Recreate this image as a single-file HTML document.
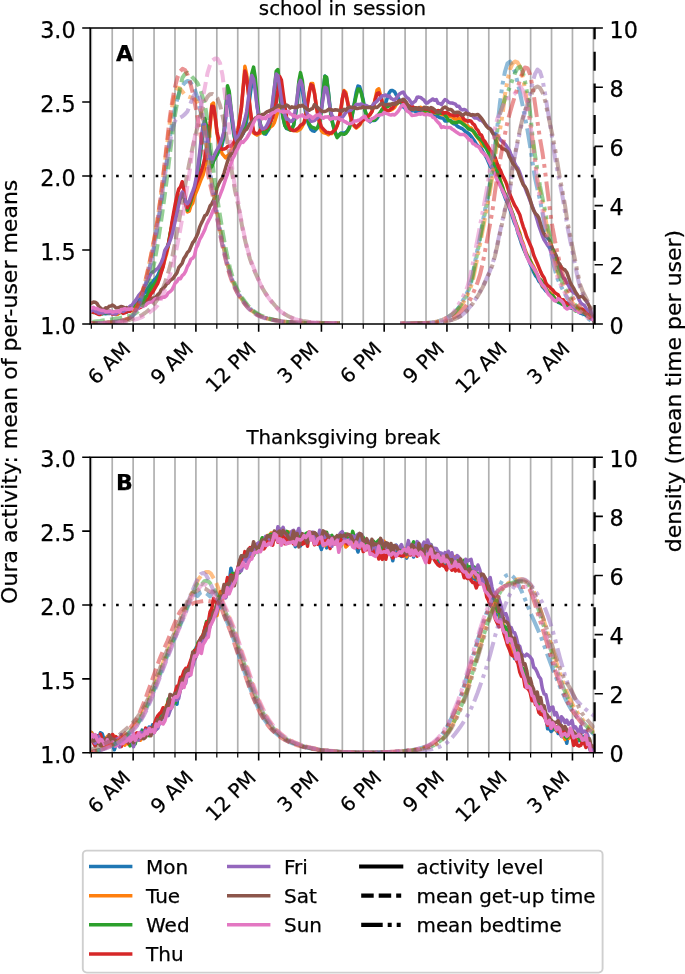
<!DOCTYPE html><html><head><meta charset="utf-8"><title>activity</title><style>html,body{margin:0;padding:0;background:#fff}svg{display:block}text{font-family:"DejaVu Sans","Liberation Sans",sans-serif;fill:#000;stroke:#000;stroke-width:0.25px}</style></head><body>
<svg width="685" height="974" viewBox="0 0 685 974">
<rect width="685" height="974" fill="#fff"/>
<defs><clipPath id="c0"><rect x="90.2" y="28.0" width="504.40000000000003" height="296.0"/></clipPath><clipPath id="c1"><rect x="90.2" y="457.3" width="504.40000000000003" height="295.49999999999994"/></clipPath></defs>
<path d="M91.30 28.0V324.0M112.22 28.0V324.0M133.14 28.0V324.0M154.06 28.0V324.0M174.98 28.0V324.0M195.90 28.0V324.0M216.82 28.0V324.0M237.74 28.0V324.0M258.66 28.0V324.0M279.58 28.0V324.0M300.50 28.0V324.0M321.42 28.0V324.0M342.34 28.0V324.0M363.26 28.0V324.0M384.18 28.0V324.0M405.10 28.0V324.0M426.02 28.0V324.0M446.94 28.0V324.0M467.86 28.0V324.0M488.78 28.0V324.0M509.70 28.0V324.0M530.62 28.0V324.0M551.54 28.0V324.0M572.46 28.0V324.0M593.38 28.0V324.0" stroke="#b0b0b0" stroke-width="1.7" fill="none"/>
<g clip-path="url(#c0)">
<path d="M90.0 310.4L91.7 310.7L93.5 311.5L95.2 311.7L97.0 313.3L98.7 313.9L100.4 313.5L102.2 313.4L103.9 313.6L105.7 313.8L107.4 313.2L109.1 313.6L110.9 313.0L112.6 312.6L114.4 312.4L116.1 312.9L117.8 313.0L119.6 311.6L121.3 311.0L123.1 311.1L124.8 311.8L126.5 312.3L128.3 311.0L130.0 310.4L131.8 308.0L133.5 306.6L135.2 304.3L137.0 303.2L138.7 301.4L140.5 298.3L142.2 296.3L143.9 293.3L145.7 292.2L147.4 288.8L149.2 286.7L150.9 283.7L152.6 282.3L154.4 279.5L156.1 278.0L157.9 275.2L159.6 271.1L161.3 266.5L163.1 260.4L164.8 254.6L166.6 249.2L168.3 243.9L170.0 237.9L171.8 229.1L173.5 221.2L175.3 213.1L177.0 204.8L178.7 199.2L180.5 195.7L182.2 193.6L184.0 195.2L185.7 205.0L187.4 210.1L189.2 206.5L190.9 200.8L192.7 196.5L194.4 191.6L196.1 184.9L197.9 174.6L199.6 160.5L201.4 145.2L203.1 130.3L204.8 123.2L206.6 129.3L208.3 142.3L210.1 155.2L211.8 164.8L213.5 161.4L215.3 156.5L217.0 155.1L218.8 151.3L220.5 149.7L222.2 144.4L224.0 136.7L225.7 117.8L227.5 96.0L229.2 98.7L230.9 112.7L232.7 127.0L234.4 137.5L236.2 143.7L237.9 141.9L239.6 139.6L241.4 136.2L243.1 133.8L244.9 128.8L246.6 121.3L248.3 109.7L250.1 95.6L251.8 83.1L253.6 76.4L255.3 85.9L257.0 104.6L258.8 117.3L260.5 126.8L262.3 131.0L264.0 133.5L265.7 134.1L267.5 131.2L269.2 128.6L271.0 121.0L272.7 108.3L274.4 94.1L276.2 80.9L277.9 80.6L279.7 93.0L281.4 108.0L283.1 117.6L284.9 125.3L286.6 128.6L288.4 129.0L290.1 129.1L291.8 128.6L293.6 124.9L295.3 116.4L297.1 103.2L298.8 90.3L300.5 83.3L302.3 90.0L304.0 102.0L305.8 114.0L307.5 120.8L309.2 125.6L311.0 129.4L312.7 130.8L314.5 131.2L316.2 129.3L317.9 127.4L319.7 120.5L321.4 108.8L323.2 90.5L324.9 76.1L326.6 78.3L328.4 92.0L330.1 108.0L331.9 119.0L333.6 127.2L335.3 132.2L337.1 136.1L338.8 135.8L340.6 133.2L342.3 132.9L344.0 133.2L345.8 132.4L347.5 130.9L349.3 127.3L351.0 122.1L352.7 111.6L354.5 102.2L356.2 92.5L358.0 86.0L359.7 86.7L361.4 92.5L363.2 99.9L364.9 110.3L366.7 116.1L368.4 120.2L370.1 121.8L371.9 120.2L373.6 120.6L375.4 120.2L377.1 118.3L378.8 115.6L380.6 112.6L382.3 110.1L384.1 107.8L385.8 102.6L387.5 97.3L389.3 92.6L391.0 90.4L392.8 90.6L394.5 91.7L396.2 94.8L398.0 97.5L399.7 100.6L401.5 103.6L403.2 106.8L404.9 108.1L406.7 110.3L408.4 110.2L410.2 111.4L411.9 110.9L413.6 110.5L415.4 111.6L417.1 111.9L418.9 111.2L420.6 111.1L422.3 111.1L424.1 112.3L425.8 113.1L427.6 113.7L429.3 113.3L431.0 113.8L432.8 114.2L434.5 114.8L436.3 116.5L438.0 116.1L439.7 117.6L441.5 117.9L443.2 118.3L445.0 121.0L446.7 121.0L448.4 120.4L450.2 120.5L451.9 121.6L453.7 123.8L455.4 124.3L457.1 126.0L458.9 127.2L460.6 128.0L462.4 128.7L464.1 130.2L465.8 132.0L467.6 132.8L469.3 134.1L471.1 136.3L472.8 138.7L474.5 141.1L476.3 144.2L478.0 146.0L479.8 147.0L481.5 148.9L483.2 152.2L485.0 154.9L486.7 158.1L488.5 162.3L490.2 166.1L491.9 168.2L493.7 171.3L495.4 174.5L497.2 177.9L498.9 180.4L500.6 184.6L502.4 190.8L504.1 194.9L505.9 199.8L507.6 203.0L509.3 207.6L511.1 212.6L512.8 217.9L514.6 223.2L516.3 226.5L518.0 233.1L519.8 238.1L521.5 243.5L523.3 248.2L525.0 251.9L526.7 256.2L528.5 259.5L530.2 264.2L532.0 267.8L533.7 272.3L535.4 275.5L537.2 277.6L538.9 281.3L540.7 283.0L542.4 286.8L544.1 288.5L545.9 291.1L547.6 292.1L549.4 293.3L551.1 295.7L552.8 297.7L554.6 299.7L556.3 300.8L558.1 302.2L559.8 302.7L561.5 303.9L563.3 304.1L565.0 304.8L566.8 305.3L568.5 305.1L570.2 307.8L572.0 308.2L573.7 308.4L575.5 309.7L577.2 310.5L578.9 311.9L580.7 313.3L582.4 313.3L584.2 314.4L585.9 315.2L587.6 316.6L589.4 316.1L591.1 317.3L592.9 319.8L594.4 322.1" stroke="#1f77b4" stroke-width="3.5" fill="none" stroke-linejoin="round" stroke-linecap="square"/>
<path d="M90.0 310.6L91.7 310.2L93.5 311.2L95.2 311.6L97.0 311.9L98.7 312.4L100.4 312.3L102.2 311.2L103.9 311.4L105.7 311.8L107.4 312.6L109.1 312.5L110.9 312.4L112.6 312.3L114.4 314.1L116.1 314.5L117.8 314.2L119.6 312.4L121.3 311.8L123.1 310.4L124.8 310.6L126.5 311.6L128.3 310.2L130.0 310.2L131.8 309.4L133.5 309.3L135.2 308.1L137.0 307.6L138.7 306.4L140.5 305.4L142.2 304.0L143.9 302.8L145.7 301.0L147.4 298.4L149.2 294.8L150.9 292.5L152.6 288.1L154.4 287.2L156.1 283.7L157.9 280.0L159.6 276.2L161.3 271.4L163.1 266.1L164.8 259.7L166.6 253.9L168.3 246.2L170.0 235.3L171.8 225.8L173.5 216.8L175.3 208.1L177.0 200.5L178.7 195.0L180.5 196.4L182.2 193.3L184.0 194.0L185.7 201.5L187.4 212.0L189.2 211.1L190.9 205.8L192.7 203.3L194.4 196.3L196.1 192.4L197.9 188.0L199.6 183.3L201.4 178.7L203.1 174.8L204.8 167.1L206.6 158.6L208.3 146.2L210.1 127.7L211.8 104.3L213.5 103.0L215.3 118.3L217.0 133.1L218.8 142.5L220.5 148.9L222.2 153.8L224.0 155.9L225.7 158.0L227.5 155.7L229.2 154.8L230.9 151.5L232.7 147.6L234.4 142.6L236.2 137.2L237.9 130.6L239.6 119.6L241.4 107.8L243.1 87.7L244.9 66.3L246.6 73.8L248.3 91.1L250.1 110.2L251.8 124.4L253.6 133.0L255.3 134.0L257.0 135.1L258.8 133.9L260.5 133.1L262.3 131.3L264.0 130.2L265.7 129.2L267.5 129.1L269.2 128.0L271.0 126.7L272.7 125.3L274.4 122.5L276.2 116.9L277.9 111.4L279.7 105.2L281.4 105.2L283.1 112.5L284.9 119.3L286.6 124.9L288.4 128.2L290.1 129.5L291.8 130.3L293.6 130.4L295.3 130.7L297.1 131.0L298.8 130.1L300.5 129.0L302.3 126.2L304.0 123.1L305.8 114.3L307.5 102.3L309.2 92.1L311.0 83.6L312.7 83.4L314.5 92.9L316.2 105.3L317.9 115.3L319.7 124.7L321.4 130.7L323.2 132.5L324.9 133.1L326.6 133.6L328.4 134.7L330.1 132.9L331.9 133.6L333.6 131.2L335.3 129.8L337.1 125.8L338.8 120.6L340.6 111.9L342.3 99.9L344.0 90.5L345.8 92.2L347.5 101.0L349.3 111.3L351.0 118.9L352.7 124.3L354.5 126.4L356.2 128.0L358.0 126.7L359.7 125.1L361.4 122.1L363.2 120.0L364.9 118.6L366.7 117.2L368.4 116.3L370.1 114.1L371.9 111.4L373.6 106.1L375.4 97.5L377.1 89.9L378.8 88.8L380.6 95.4L382.3 103.0L384.1 108.8L385.8 111.0L387.5 110.8L389.3 110.4L391.0 110.1L392.8 109.0L394.5 107.5L396.2 104.7L398.0 103.0L399.7 100.9L401.5 101.4L403.2 103.1L404.9 104.9L406.7 105.7L408.4 106.3L410.2 107.3L411.9 108.7L413.6 109.5L415.4 107.9L417.1 108.0L418.9 108.1L420.6 107.2L422.3 109.1L424.1 110.4L425.8 112.0L427.6 110.6L429.3 111.6L431.0 111.1L432.8 111.5L434.5 112.7L436.3 112.9L438.0 112.5L439.7 113.2L441.5 114.6L443.2 114.4L445.0 115.7L446.7 116.2L448.4 116.0L450.2 116.3L451.9 116.8L453.7 118.4L455.4 119.0L457.1 119.2L458.9 118.3L460.6 119.3L462.4 121.0L464.1 123.3L465.8 125.5L467.6 125.8L469.3 127.6L471.1 128.0L472.8 130.7L474.5 133.5L476.3 136.0L478.0 138.2L479.8 140.3L481.5 143.7L483.2 146.1L485.0 145.9L486.7 147.4L488.5 149.1L490.2 152.6L491.9 155.6L493.7 158.2L495.4 163.4L497.2 169.5L498.9 174.8L500.6 181.2L502.4 186.3L504.1 191.9L505.9 195.4L507.6 199.3L509.3 203.7L511.1 209.1L512.8 214.2L514.6 219.6L516.3 224.2L518.0 228.4L519.8 233.0L521.5 239.4L523.3 243.6L525.0 249.7L526.7 253.8L528.5 258.3L530.2 260.2L532.0 263.8L533.7 266.7L535.4 270.0L537.2 274.8L538.9 278.0L540.7 282.0L542.4 285.4L544.1 287.3L545.9 288.7L547.6 290.7L549.4 292.4L551.1 293.7L552.8 295.7L554.6 297.8L556.3 299.9L558.1 300.7L559.8 301.3L561.5 301.3L563.3 303.8L565.0 304.0L566.8 305.1L568.5 306.0L570.2 307.2L572.0 306.6L573.7 308.0L575.5 308.5L577.2 309.0L578.9 310.2L580.7 309.7L582.4 312.3L584.2 312.8L585.9 313.7L587.6 313.9L589.4 316.4L591.1 316.4L592.9 319.1L594.4 319.3" stroke="#ff7f0e" stroke-width="3.5" fill="none" stroke-linejoin="round" stroke-linecap="square"/>
<path d="M90.0 311.9L91.7 311.4L93.5 312.5L95.2 311.8L97.0 313.1L98.7 313.2L100.4 312.6L102.2 313.9L103.9 312.4L105.7 312.8L107.4 312.6L109.1 311.1L110.9 311.9L112.6 311.6L114.4 312.9L116.1 311.8L117.8 311.5L119.6 312.8L121.3 312.4L123.1 312.5L124.8 311.1L126.5 310.4L128.3 309.1L130.0 308.0L131.8 307.9L133.5 306.7L135.2 305.8L137.0 305.0L138.7 304.8L140.5 303.6L142.2 301.9L143.9 299.3L145.7 296.8L147.4 295.2L149.2 291.2L150.9 288.5L152.6 286.0L154.4 283.9L156.1 281.5L157.9 278.5L159.6 274.9L161.3 268.6L163.1 261.9L164.8 255.5L166.6 250.5L168.3 245.4L170.0 234.1L171.8 226.5L173.5 216.8L175.3 209.0L177.0 200.4L178.7 197.3L180.5 198.4L182.2 195.8L184.0 194.6L185.7 201.8L187.4 210.2L189.2 206.1L190.9 201.3L192.7 195.0L194.4 188.9L196.1 182.4L197.9 172.5L199.6 158.1L201.4 142.1L203.1 128.2L204.8 118.4L206.6 126.2L208.3 140.7L210.1 155.1L211.8 166.9L213.5 160.7L215.3 158.2L217.0 154.0L218.8 150.5L220.5 146.9L222.2 140.9L224.0 132.4L225.7 109.6L227.5 85.7L229.2 91.0L230.9 106.8L232.7 123.1L234.4 136.4L236.2 141.7L237.9 140.9L239.6 137.2L241.4 134.0L243.1 130.2L244.9 124.5L246.6 116.5L248.3 104.0L250.1 87.3L251.8 73.4L253.6 67.1L255.3 77.7L257.0 97.6L258.8 113.8L260.5 124.5L262.3 130.6L264.0 133.5L265.7 132.4L267.5 129.8L269.2 127.0L271.0 118.8L272.7 103.7L274.4 88.8L276.2 71.3L277.9 69.5L279.7 85.0L281.4 104.4L283.1 117.8L284.9 125.8L286.6 128.1L288.4 128.8L290.1 130.2L291.8 128.7L293.6 125.5L295.3 114.9L297.1 100.0L298.8 81.6L300.5 72.6L302.3 80.3L304.0 95.9L305.8 110.5L307.5 118.1L309.2 123.9L311.0 126.6L312.7 127.4L314.5 128.1L316.2 128.8L317.9 127.2L319.7 122.3L321.4 109.6L323.2 92.3L324.9 76.2L326.6 77.3L328.4 92.4L330.1 109.8L331.9 121.0L333.6 126.9L335.3 133.3L337.1 137.6L338.8 135.5L340.6 133.4L342.3 134.0L344.0 134.3L345.8 133.5L347.5 131.0L349.3 128.3L351.0 121.6L352.7 112.8L354.5 103.5L356.2 95.7L358.0 89.0L359.7 89.2L361.4 93.3L363.2 101.9L364.9 110.0L366.7 115.2L368.4 120.2L370.1 120.2L371.9 119.8L373.6 120.3L375.4 119.2L377.1 116.6L378.8 114.1L380.6 111.8L382.3 108.9L384.1 108.4L385.8 107.1L387.5 106.8L389.3 105.8L391.0 104.3L392.8 104.8L394.5 103.7L396.2 103.9L398.0 102.7L399.7 102.0L401.5 101.6L403.2 103.0L404.9 104.1L406.7 105.5L408.4 107.1L410.2 108.7L411.9 109.1L413.6 107.9L415.4 108.5L417.1 109.1L418.9 109.1L420.6 109.4L422.3 109.8L424.1 110.3L425.8 110.7L427.6 110.8L429.3 111.3L431.0 110.7L432.8 110.7L434.5 112.0L436.3 112.6L438.0 113.7L439.7 112.5L441.5 113.3L443.2 112.9L445.0 114.8L446.7 117.4L448.4 120.4L450.2 120.5L451.9 122.7L453.7 122.3L455.4 122.7L457.1 122.3L458.9 121.8L460.6 122.2L462.4 123.6L464.1 124.9L465.8 126.2L467.6 128.2L469.3 129.2L471.1 129.9L472.8 130.6L474.5 132.4L476.3 135.4L478.0 137.5L479.8 138.9L481.5 140.5L483.2 142.7L485.0 146.4L486.7 149.5L488.5 152.9L490.2 156.7L491.9 160.4L493.7 164.0L495.4 168.1L497.2 171.2L498.9 176.3L500.6 182.5L502.4 186.9L504.1 192.4L505.9 195.7L507.6 199.8L509.3 205.8L511.1 210.2L512.8 213.9L514.6 220.1L516.3 225.3L518.0 230.4L519.8 235.1L521.5 241.0L523.3 246.0L525.0 251.5L526.7 254.9L528.5 257.7L530.2 261.1L532.0 265.4L533.7 269.1L535.4 273.0L537.2 275.2L538.9 279.0L540.7 279.8L542.4 282.4L544.1 285.2L545.9 288.3L547.6 291.6L549.4 293.3L551.1 295.3L552.8 295.6L554.6 298.7L556.3 300.8L558.1 301.7L559.8 301.3L561.5 303.6L563.3 304.9L565.0 305.5L566.8 305.9L568.5 306.5L570.2 307.2L572.0 307.8L573.7 308.5L575.5 310.9L577.2 310.2L578.9 312.1L580.7 310.2L582.4 311.7L584.2 311.7L585.9 314.2L587.6 314.8L589.4 315.7L591.1 316.8L592.9 318.9L594.4 321.3" stroke="#2ca02c" stroke-width="3.5" fill="none" stroke-linejoin="round" stroke-linecap="square"/>
<path d="M90.0 310.2L91.7 311.6L93.5 312.3L95.2 312.7L97.0 313.7L98.7 314.4L100.4 314.4L102.2 312.5L103.9 312.4L105.7 311.7L107.4 312.4L109.1 312.1L110.9 313.2L112.6 314.1L114.4 313.5L116.1 313.9L117.8 312.0L119.6 311.8L121.3 311.4L123.1 313.4L124.8 312.8L126.5 311.7L128.3 311.2L130.0 311.2L131.8 310.1L133.5 310.0L135.2 310.5L137.0 307.7L138.7 308.1L140.5 307.4L142.2 305.7L143.9 303.8L145.7 302.9L147.4 299.9L149.2 298.4L150.9 293.9L152.6 292.3L154.4 289.1L156.1 286.1L157.9 283.0L159.6 278.4L161.3 272.1L163.1 266.6L164.8 258.1L166.6 251.3L168.3 244.2L170.0 236.0L171.8 223.4L173.5 213.6L175.3 203.6L177.0 195.5L178.7 189.2L180.5 186.9L182.2 181.7L184.0 190.1L185.7 203.9L187.4 207.8L189.2 203.2L190.9 198.9L192.7 194.3L194.4 189.1L196.1 184.1L197.9 179.9L199.6 175.6L201.4 170.8L203.1 165.3L204.8 157.9L206.6 148.9L208.3 136.0L210.1 123.5L211.8 106.2L213.5 106.4L215.3 117.6L217.0 131.8L218.8 140.2L220.5 147.9L222.2 149.3L224.0 149.1L225.7 148.4L227.5 146.7L229.2 145.9L230.9 146.2L232.7 143.9L234.4 141.4L236.2 135.1L237.9 130.8L239.6 120.1L241.4 107.5L243.1 89.2L244.9 71.0L246.6 77.3L248.3 92.2L250.1 108.2L251.8 120.9L253.6 131.3L255.3 133.6L257.0 133.6L258.8 132.9L260.5 129.9L262.3 129.0L264.0 128.7L265.7 128.3L267.5 126.9L269.2 123.8L271.0 120.6L272.7 117.2L274.4 111.1L276.2 102.7L277.9 90.8L279.7 76.6L281.4 80.1L283.1 93.0L284.9 106.3L286.6 116.8L288.4 125.1L290.1 129.1L291.8 129.8L293.6 130.6L295.3 130.2L297.1 129.0L298.8 127.7L300.5 125.3L302.3 124.4L304.0 122.9L305.8 116.2L307.5 104.1L309.2 93.6L311.0 84.6L312.7 85.7L314.5 93.6L316.2 105.3L317.9 114.8L319.7 121.9L321.4 126.9L323.2 129.1L324.9 130.7L326.6 132.6L328.4 132.6L330.1 133.4L331.9 132.5L333.6 131.2L335.3 129.5L337.1 125.8L338.8 120.4L340.6 111.1L342.3 98.6L344.0 91.3L345.8 94.2L347.5 101.9L349.3 110.3L351.0 117.8L352.7 122.8L354.5 125.6L356.2 127.3L358.0 125.4L359.7 124.1L361.4 121.3L363.2 119.9L364.9 118.4L366.7 117.4L368.4 115.9L370.1 114.6L371.9 111.8L373.6 106.6L375.4 98.9L377.1 93.4L378.8 92.9L380.6 96.6L382.3 102.5L384.1 108.3L385.8 109.7L387.5 110.7L389.3 110.4L391.0 108.7L392.8 108.0L394.5 104.9L396.2 102.8L398.0 102.0L399.7 100.7L401.5 100.7L403.2 101.9L404.9 103.4L406.7 105.1L408.4 105.8L410.2 106.3L411.9 106.1L413.6 107.4L415.4 107.8L417.1 108.6L418.9 109.2L420.6 109.6L422.3 109.0L424.1 107.6L425.8 109.1L427.6 108.8L429.3 109.9L431.0 109.8L432.8 111.8L434.5 112.0L436.3 111.4L438.0 110.5L439.7 110.9L441.5 110.7L443.2 113.5L445.0 112.7L446.7 112.6L448.4 113.3L450.2 114.8L451.9 115.0L453.7 115.7L455.4 115.3L457.1 115.9L458.9 114.2L460.6 114.7L462.4 116.6L464.1 119.8L465.8 120.2L467.6 121.4L469.3 120.7L471.1 121.2L472.8 123.7L474.5 124.9L476.3 128.8L478.0 130.4L479.8 134.4L481.5 135.2L483.2 139.5L485.0 141.7L486.7 144.6L488.5 147.3L490.2 150.2L491.9 151.7L493.7 155.2L495.4 158.2L497.2 163.7L498.9 168.1L500.6 170.6L502.4 175.3L504.1 178.4L505.9 182.3L507.6 187.3L509.3 192.7L511.1 197.3L512.8 201.1L514.6 205.3L516.3 207.9L518.0 211.3L519.8 214.8L521.5 220.9L523.3 226.8L525.0 231.2L526.7 236.8L528.5 240.7L530.2 244.7L532.0 248.9L533.7 255.1L535.4 259.1L537.2 263.2L538.9 267.3L540.7 271.8L542.4 275.4L544.1 277.7L545.9 283.1L547.6 285.5L549.4 286.7L551.1 288.8L552.8 289.9L554.6 292.5L556.3 293.6L558.1 294.8L559.8 298.1L561.5 300.1L563.3 299.8L565.0 302.4L566.8 303.0L568.5 303.8L570.2 304.9L572.0 306.0L573.7 306.8L575.5 307.6L577.2 308.5L578.9 309.6L580.7 309.2L582.4 309.3L584.2 310.9L585.9 311.5L587.6 313.8L589.4 315.4L591.1 316.6L592.9 319.4L594.4 320.7" stroke="#d62728" stroke-width="3.5" fill="none" stroke-linejoin="round" stroke-linecap="square"/>
<path d="M90.0 311.5L91.7 310.6L93.5 308.9L95.2 311.6L97.0 311.7L98.7 313.3L100.4 312.6L102.2 313.1L103.9 312.5L105.7 312.0L107.4 312.2L109.1 312.7L110.9 312.9L112.6 313.5L114.4 313.9L116.1 313.9L117.8 312.4L119.6 311.1L121.3 310.8L123.1 311.4L124.8 310.5L126.5 309.2L128.3 307.7L130.0 306.2L131.8 305.5L133.5 302.9L135.2 300.8L137.0 298.4L138.7 295.5L140.5 293.4L142.2 291.4L143.9 287.4L145.7 284.6L147.4 281.3L149.2 277.2L150.9 273.8L152.6 271.9L154.4 271.3L156.1 269.6L157.9 268.5L159.6 265.6L161.3 262.5L163.1 257.8L164.8 250.5L166.6 247.5L168.3 245.0L170.0 240.8L171.8 235.7L173.5 228.6L175.3 220.5L177.0 212.9L178.7 204.8L180.5 196.9L182.2 192.0L184.0 196.2L185.7 201.9L187.4 203.7L189.2 201.0L190.9 196.0L192.7 191.4L194.4 186.6L196.1 178.7L197.9 166.5L199.6 153.0L201.4 137.1L203.1 124.9L204.8 124.5L206.6 132.9L208.3 144.3L210.1 157.5L211.8 162.4L213.5 157.0L215.3 153.3L217.0 149.8L218.8 146.8L220.5 142.7L222.2 137.6L224.0 131.1L225.7 115.8L227.5 96.8L229.2 95.6L230.9 108.2L232.7 121.3L234.4 133.3L236.2 140.4L237.9 138.0L239.6 133.7L241.4 128.5L243.1 125.4L244.9 119.3L246.6 111.8L248.3 99.3L250.1 85.7L251.8 75.6L253.6 79.2L255.3 91.2L257.0 106.1L258.8 117.0L260.5 125.4L262.3 128.9L264.0 128.4L265.7 127.4L267.5 124.2L269.2 120.2L271.0 114.8L272.7 100.6L274.4 87.0L276.2 74.1L277.9 75.6L279.7 87.4L281.4 99.3L283.1 109.9L284.9 115.2L286.6 119.3L288.4 119.3L290.1 121.5L291.8 121.2L293.6 119.3L295.3 110.4L297.1 98.0L298.8 84.7L300.5 80.3L302.3 85.3L304.0 96.7L305.8 108.5L307.5 114.5L309.2 118.7L311.0 121.3L312.7 121.0L314.5 120.6L316.2 118.8L317.9 117.8L319.7 114.7L321.4 109.4L323.2 98.3L324.9 87.2L326.6 88.1L328.4 97.8L330.1 108.3L331.9 115.4L333.6 117.7L335.3 118.6L337.1 118.6L338.8 118.6L340.6 117.4L342.3 117.5L344.0 115.2L345.8 112.6L347.5 111.2L349.3 110.6L351.0 110.3L352.7 108.1L354.5 107.0L356.2 104.4L358.0 104.4L359.7 104.4L361.4 104.0L363.2 105.4L364.9 105.6L366.7 105.6L368.4 106.7L370.1 107.0L371.9 106.4L373.6 103.7L375.4 102.5L377.1 101.2L378.8 99.2L380.6 97.8L382.3 95.7L384.1 95.5L385.8 95.0L387.5 96.3L389.3 96.1L391.0 98.4L392.8 99.3L394.5 100.1L396.2 98.1L398.0 96.0L399.7 93.7L401.5 92.7L403.2 92.0L404.9 94.9L406.7 97.4L408.4 98.5L410.2 101.0L411.9 104.0L413.6 102.3L415.4 101.1L417.1 97.3L418.9 97.1L420.6 97.4L422.3 98.8L424.1 100.2L425.8 102.9L427.6 102.9L429.3 101.3L431.0 100.4L432.8 99.0L434.5 100.3L436.3 99.5L438.0 103.3L439.7 103.4L441.5 104.7L443.2 101.9L445.0 99.5L446.7 100.3L448.4 102.2L450.2 103.0L451.9 103.0L453.7 103.5L455.4 104.2L457.1 106.3L458.9 106.2L460.6 109.0L462.4 109.9L464.1 109.5L465.8 110.1L467.6 112.6L469.3 114.7L471.1 114.8L472.8 116.0L474.5 117.9L476.3 118.0L478.0 118.7L479.8 120.0L481.5 120.4L483.2 121.8L485.0 123.7L486.7 125.8L488.5 127.3L490.2 129.0L491.9 130.1L493.7 134.2L495.4 133.9L497.2 135.7L498.9 137.5L500.6 140.1L502.4 141.6L504.1 143.1L505.9 145.1L507.6 147.9L509.3 150.2L511.1 154.8L512.8 158.2L514.6 162.7L516.3 166.2L518.0 168.4L519.8 172.7L521.5 177.6L523.3 183.9L525.0 187.6L526.7 192.2L528.5 196.4L530.2 201.1L532.0 205.5L533.7 209.9L535.4 214.2L537.2 220.0L538.9 225.9L540.7 230.9L542.4 235.8L544.1 239.9L545.9 242.6L547.6 245.3L549.4 247.5L551.1 252.8L552.8 255.3L554.6 259.2L556.3 264.0L558.1 267.2L559.8 270.1L561.5 274.1L563.3 278.1L565.0 279.1L566.8 282.8L568.5 285.3L570.2 289.0L572.0 291.1L573.7 292.6L575.5 293.6L577.2 295.6L578.9 299.4L580.7 302.8L582.4 304.3L584.2 305.2L585.9 308.0L587.6 310.4L589.4 311.6L591.1 313.4L592.9 317.6L594.4 319.3" stroke="#9467bd" stroke-width="3.5" fill="none" stroke-linejoin="round" stroke-linecap="square"/>
<path d="M90.0 303.7L91.7 302.9L93.5 302.1L95.2 302.2L97.0 303.5L98.7 306.3L100.4 307.9L102.2 309.3L103.9 309.6L105.7 307.8L107.4 308.2L109.1 306.3L110.9 306.1L112.6 305.1L114.4 306.3L116.1 307.9L117.8 307.6L119.6 307.1L121.3 306.5L123.1 306.9L124.8 308.3L126.5 307.6L128.3 309.8L130.0 308.0L131.8 309.5L133.5 310.6L135.2 309.2L137.0 307.4L138.7 303.3L140.5 303.3L142.2 303.9L143.9 303.1L145.7 304.8L147.4 302.4L149.2 302.0L150.9 299.4L152.6 298.1L154.4 298.1L156.1 296.9L157.9 294.5L159.6 293.2L161.3 289.6L163.1 288.4L164.8 286.8L166.6 284.0L168.3 283.0L170.0 280.7L171.8 279.4L173.5 277.7L175.3 275.1L177.0 272.8L178.7 267.7L180.5 265.4L182.2 263.2L184.0 258.2L185.7 255.9L187.4 252.5L189.2 250.8L190.9 246.9L192.7 242.7L194.4 240.6L196.1 237.2L197.9 233.2L199.6 227.1L201.4 223.1L203.1 219.7L204.8 215.8L206.6 214.6L208.3 211.0L210.1 205.9L211.8 203.8L213.5 200.2L215.3 196.8L217.0 187.8L218.8 183.7L220.5 180.4L222.2 178.3L224.0 173.3L225.7 167.5L227.5 161.4L229.2 157.2L230.9 154.7L232.7 152.3L234.4 149.4L236.2 144.8L237.9 140.9L239.6 139.3L241.4 136.8L243.1 133.0L244.9 130.5L246.6 129.4L248.3 126.4L250.1 123.5L251.8 122.2L253.6 120.2L255.3 118.1L257.0 117.2L258.8 115.2L260.5 115.6L262.3 114.5L264.0 114.2L265.7 112.7L267.5 111.6L269.2 111.0L271.0 109.9L272.7 109.5L274.4 108.1L276.2 107.9L277.9 105.2L279.7 106.2L281.4 106.9L283.1 106.7L284.9 106.2L286.6 105.1L288.4 106.1L290.1 108.1L291.8 106.8L293.6 107.4L295.3 107.2L297.1 107.6L298.8 105.5L300.5 106.3L302.3 105.3L304.0 106.8L305.8 108.0L307.5 109.4L309.2 110.3L311.0 109.1L312.7 108.4L314.5 104.6L316.2 106.0L317.9 108.0L319.7 109.4L321.4 111.0L323.2 111.6L324.9 111.5L326.6 110.8L328.4 109.5L330.1 109.2L331.9 110.1L333.6 110.3L335.3 109.7L337.1 109.9L338.8 110.5L340.6 110.5L342.3 111.1L344.0 109.2L345.8 110.1L347.5 108.2L349.3 107.2L351.0 107.1L352.7 107.7L354.5 107.3L356.2 108.5L358.0 108.4L359.7 107.9L361.4 107.8L363.2 106.7L364.9 107.9L366.7 107.5L368.4 107.6L370.1 107.1L371.9 108.7L373.6 107.4L375.4 107.3L377.1 107.4L378.8 106.0L380.6 104.1L382.3 103.2L384.1 104.7L385.8 105.0L387.5 104.6L389.3 104.3L391.0 104.7L392.8 103.5L394.5 104.3L396.2 102.9L398.0 102.1L399.7 100.5L401.5 100.3L403.2 99.3L404.9 100.5L406.7 102.9L408.4 105.8L410.2 109.3L411.9 108.6L413.6 109.3L415.4 107.8L417.1 108.9L418.9 107.6L420.6 109.5L422.3 109.3L424.1 107.3L425.8 108.0L427.6 107.7L429.3 109.1L431.0 107.5L432.8 108.4L434.5 109.6L436.3 111.5L438.0 112.4L439.7 111.7L441.5 110.0L443.2 107.9L445.0 107.1L446.7 108.0L448.4 109.8L450.2 109.4L451.9 110.2L453.7 112.3L455.4 112.8L457.1 112.3L458.9 112.3L460.6 113.7L462.4 115.3L464.1 114.4L465.8 113.0L467.6 114.3L469.3 114.0L471.1 115.3L472.8 114.6L474.5 114.9L476.3 114.8L478.0 114.6L479.8 116.3L481.5 118.4L483.2 120.7L485.0 124.0L486.7 126.4L488.5 128.4L490.2 128.7L491.9 131.9L493.7 134.7L495.4 139.6L497.2 143.6L498.9 146.0L500.6 146.4L502.4 149.1L504.1 148.9L505.9 150.2L507.6 151.7L509.3 156.3L511.1 159.6L512.8 163.5L514.6 165.7L516.3 168.1L518.0 170.9L519.8 176.2L521.5 180.6L523.3 184.9L525.0 186.7L526.7 189.8L528.5 195.4L530.2 199.6L532.0 206.3L533.7 210.5L535.4 213.5L537.2 215.2L538.9 218.0L540.7 224.4L542.4 229.7L544.1 233.7L545.9 236.4L547.6 237.7L549.4 240.1L551.1 244.3L552.8 249.1L554.6 252.5L556.3 255.7L558.1 262.0L559.8 264.1L561.5 267.7L563.3 269.0L565.0 269.9L566.8 272.4L568.5 277.2L570.2 282.3L572.0 285.6L573.7 288.4L575.5 292.0L577.2 294.4L578.9 297.3L580.7 296.7L582.4 296.1L584.2 298.5L585.9 300.5L587.6 302.9L589.4 306.3L591.1 312.8L592.9 317.5L594.4 322.3" stroke="#8c564b" stroke-width="3.5" fill="none" stroke-linejoin="round" stroke-linecap="square"/>
<path d="M90.0 307.6L91.7 308.0L93.5 307.3L95.2 308.7L97.0 308.4L98.7 309.6L100.4 310.1L102.2 310.6L103.9 310.6L105.7 311.8L107.4 311.6L109.1 311.2L110.9 311.0L112.6 312.4L114.4 311.6L116.1 311.6L117.8 310.7L119.6 312.3L121.3 309.4L123.1 309.2L124.8 308.7L126.5 309.5L128.3 309.0L130.0 309.2L131.8 308.6L133.5 309.7L135.2 309.8L137.0 309.3L138.7 307.5L140.5 306.0L142.2 306.7L143.9 306.1L145.7 304.9L147.4 303.5L149.2 302.4L150.9 302.1L152.6 301.7L154.4 299.5L156.1 298.7L157.9 298.3L159.6 298.8L161.3 298.0L163.1 297.0L164.8 297.2L166.6 295.7L168.3 292.7L170.0 291.8L171.8 290.1L173.5 286.9L175.3 282.8L177.0 281.5L178.7 278.4L180.5 278.7L182.2 275.7L184.0 274.2L185.7 271.2L187.4 266.5L189.2 263.6L190.9 259.2L192.7 258.2L194.4 255.9L196.1 248.1L197.9 244.8L199.6 239.7L201.4 236.6L203.1 233.3L204.8 229.7L206.6 224.5L208.3 221.1L210.1 217.7L211.8 213.7L213.5 209.5L215.3 206.9L217.0 201.7L218.8 198.3L220.5 193.8L222.2 189.7L224.0 184.3L225.7 178.9L227.5 174.1L229.2 167.5L230.9 163.7L232.7 158.5L234.4 155.6L236.2 151.2L237.9 148.3L239.6 144.6L241.4 141.7L243.1 142.4L244.9 140.2L246.6 138.4L248.3 135.5L250.1 132.3L251.8 126.5L253.6 122.7L255.3 119.5L257.0 117.4L258.8 116.4L260.5 117.0L262.3 118.9L264.0 117.7L265.7 118.7L267.5 115.7L269.2 116.0L271.0 113.9L272.7 112.9L274.4 112.3L276.2 110.9L277.9 110.0L279.7 111.1L281.4 111.5L283.1 112.2L284.9 111.5L286.6 111.9L288.4 111.2L290.1 113.9L291.8 114.4L293.6 116.2L295.3 115.8L297.1 117.8L298.8 116.2L300.5 116.0L302.3 114.9L304.0 116.8L305.8 117.5L307.5 117.2L309.2 115.4L311.0 116.5L312.7 118.5L314.5 116.7L316.2 115.3L317.9 115.0L319.7 115.1L321.4 117.2L323.2 118.3L324.9 117.0L326.6 117.1L328.4 116.6L330.1 119.4L331.9 118.6L333.6 118.0L335.3 118.5L337.1 117.6L338.8 118.6L340.6 119.7L342.3 119.7L344.0 121.3L345.8 122.0L347.5 123.2L349.3 123.7L351.0 123.5L352.7 122.8L354.5 121.1L356.2 121.1L358.0 120.3L359.7 120.0L361.4 118.4L363.2 117.1L364.9 116.4L366.7 119.8L368.4 120.8L370.1 121.1L371.9 118.4L373.6 118.2L375.4 116.8L377.1 115.3L378.8 115.2L380.6 114.7L382.3 114.6L384.1 112.5L385.8 113.4L387.5 113.7L389.3 114.6L391.0 115.1L392.8 114.4L394.5 115.0L396.2 113.4L398.0 111.6L399.7 108.9L401.5 105.8L403.2 104.6L404.9 106.8L406.7 110.7L408.4 111.8L410.2 113.1L411.9 115.4L413.6 115.3L415.4 115.1L417.1 114.5L418.9 113.8L420.6 114.3L422.3 113.4L424.1 114.6L425.8 114.9L427.6 114.1L429.3 114.9L431.0 114.8L432.8 117.3L434.5 117.9L436.3 120.4L438.0 122.3L439.7 124.0L441.5 127.5L443.2 126.8L445.0 127.2L446.7 127.5L448.4 127.4L450.2 127.4L451.9 128.9L453.7 130.0L455.4 131.3L457.1 132.6L458.9 133.7L460.6 134.6L462.4 134.4L464.1 134.6L465.8 135.8L467.6 137.9L469.3 140.1L471.1 139.9L472.8 143.5L474.5 144.1L476.3 145.9L478.0 146.2L479.8 148.3L481.5 151.5L483.2 153.0L485.0 155.0L486.7 156.2L488.5 160.3L490.2 163.4L491.9 167.3L493.7 172.4L495.4 175.8L497.2 180.2L498.9 183.3L500.6 186.8L502.4 190.2L504.1 193.8L505.9 197.9L507.6 201.3L509.3 206.6L511.1 210.6L512.8 215.6L514.6 221.2L516.3 225.8L518.0 232.3L519.8 236.0L521.5 241.5L523.3 245.0L525.0 251.2L526.7 256.0L528.5 260.3L530.2 263.3L532.0 265.7L533.7 268.2L535.4 271.1L537.2 274.2L538.9 278.8L540.7 281.9L542.4 284.9L544.1 286.4L545.9 289.4L547.6 293.0L549.4 295.3L551.1 296.8L552.8 298.8L554.6 300.7L556.3 301.1L558.1 298.6L559.8 299.8L561.5 301.0L563.3 303.1L565.0 307.5L566.8 309.0L568.5 308.4L570.2 307.1L572.0 307.2L573.7 308.8L575.5 310.5L577.2 310.5L578.9 312.4L580.7 311.7L582.4 312.5L584.2 313.2L585.9 313.4L587.6 315.5L589.4 316.6L591.1 319.0L592.9 319.4L594.4 320.7" stroke="#e377c2" stroke-width="3.5" fill="none" stroke-linejoin="round" stroke-linecap="square"/>
<path d="M90.0 323.3L92.5 323.2L95.0 323.2L97.5 323.1L100.0 323.0L102.5 322.9L105.0 322.7L107.5 322.6L110.0 322.4L112.5 322.2L115.0 321.8L117.5 321.4L120.0 321.0L122.5 320.5L125.0 319.8L127.5 319.1L130.0 318.0L132.5 316.2L135.0 312.7L137.5 308.3L140.0 302.7L142.5 295.5L145.0 286.8L147.5 277.1L150.0 266.5L152.5 254.9L155.0 241.8L157.5 226.7L160.0 210.0L162.5 192.2L165.0 174.0L167.5 155.2L170.0 136.9L172.5 120.9L175.0 107.9L177.5 98.3L180.0 90.8L182.5 85.7L185.0 82.5L187.5 81.0L190.0 81.7L192.5 84.8L195.0 90.1L197.5 98.2L200.0 109.0L202.5 121.9L205.0 137.7L207.5 154.7L210.0 171.2L212.5 187.0L215.0 201.4L217.5 215.4L220.0 229.0L222.5 241.8L225.0 253.7L227.5 264.1L230.0 272.9L232.5 280.2L235.0 286.3L237.5 291.6L240.0 296.0L242.5 299.7L245.0 303.1L247.5 306.0L250.0 308.4L252.5 310.7L255.0 312.7L257.5 314.2L260.0 315.5L262.5 316.6L265.0 317.6L267.5 318.4L270.0 319.0L272.5 319.5L275.0 320.1L277.5 320.6L280.0 321.0L282.5 321.4L285.0 321.7L287.5 322.0L290.0 322.1L292.5 322.3L295.0 322.4L297.5 322.6L300.0 322.7L302.5 322.8L305.0 322.9L307.5 322.9L310.0 323.0L312.5 323.0L315.0 323.1L317.5 323.1L320.0 323.2L322.5 323.2L325.0 323.2L327.5 323.2L330.0 323.2L332.5 323.2L335.0 323.2L337.5 323.2L340.0 323.2" stroke="#1f77b4" stroke-opacity="0.5" stroke-width="4" stroke-dasharray="12.3 5.3" stroke-dashoffset="0.0" fill="none" stroke-linejoin="round"/>
<path d="M90.0 323.3L92.5 323.2L95.0 323.2L97.5 323.1L100.0 323.0L102.5 322.9L105.0 322.7L107.5 322.6L110.0 322.4L112.5 322.1L115.0 321.8L117.5 321.4L120.0 321.0L122.5 320.5L125.0 319.8L127.5 319.0L130.0 317.5L132.5 314.5L135.0 310.0L137.5 304.8L140.0 298.8L142.5 291.3L145.0 282.2L147.5 271.4L150.0 259.9L152.5 247.5L155.0 234.3L157.5 219.3L160.0 201.6L162.5 182.1L165.0 162.0L167.5 141.4L170.0 121.4L172.5 104.9L175.0 93.0L177.5 87.6L180.0 88.5L182.5 91.7L185.0 95.0L187.5 96.2L190.0 97.2L192.5 98.0L195.0 99.2L197.5 102.4L200.0 107.5L202.5 117.4L205.0 133.0L207.5 153.2L210.0 171.2L212.5 187.0L215.0 201.0L217.5 215.0L220.0 229.1L222.5 242.1L225.0 253.3L227.5 264.0L230.0 273.2L232.5 280.9L235.0 287.0L237.5 292.1L240.0 296.5L242.5 300.2L245.0 303.6L247.5 306.6L250.0 309.2L252.5 311.3L255.0 313.3L257.5 314.8L260.0 316.0L262.5 317.0L265.0 317.8L267.5 318.6L270.0 319.3L272.5 319.7L275.0 320.2L277.5 320.6L280.0 321.1L282.5 321.4L285.0 321.7L287.5 322.0L290.0 322.1L292.5 322.3L295.0 322.4L297.5 322.6L300.0 322.7L302.5 322.8L305.0 322.9L307.5 322.9L310.0 323.0L312.5 323.0L315.0 323.1L317.5 323.1L320.0 323.2L322.5 323.2L325.0 323.2L327.5 323.2L330.0 323.2L332.5 323.2L335.0 323.2L337.5 323.2L340.0 323.2" stroke="#ff7f0e" stroke-opacity="0.5" stroke-width="4" stroke-dasharray="12.3 5.3" stroke-dashoffset="7.5" fill="none" stroke-linejoin="round"/>
<path d="M90.0 322.2L92.5 321.9L95.0 321.5L97.5 321.2L100.0 320.9L102.5 320.5L105.0 320.2L107.5 319.9L110.0 319.5L112.5 319.2L115.0 318.8L117.5 318.4L120.0 318.0L122.5 317.5L125.0 317.0L127.5 316.5L130.0 315.8L132.5 314.9L135.0 313.6L137.5 311.9L140.0 309.4L142.5 305.1L145.0 298.8L147.5 290.7L150.0 281.6L152.5 271.3L155.0 259.2L157.5 245.1L160.0 229.0L162.5 211.6L165.0 193.3L167.5 174.0L170.0 153.2L172.5 133.1L175.0 115.0L177.5 100.7L180.0 87.8L182.5 77.6L185.0 74.0L187.5 72.7L190.0 74.6L192.5 77.4L195.0 80.2L197.5 83.1L200.0 88.5L202.5 96.7L205.0 105.5L207.5 120.0L210.0 140.0L212.5 163.0L215.0 183.0L217.5 199.6L220.0 215.5L222.5 231.0L225.0 244.8L227.5 257.3L230.0 268.0L232.5 276.9L235.0 284.1L237.5 289.7L240.0 294.3L242.5 298.2L245.0 301.7L247.5 305.0L250.0 307.7L252.5 310.0L255.0 312.0L257.5 313.7L260.0 315.1L262.5 316.1L265.0 317.1L267.5 318.0L270.0 318.8L272.5 319.4L275.0 319.9L277.5 320.4L280.0 320.8L282.5 321.2L285.0 321.6L287.5 321.9L290.0 322.1L292.5 322.2L295.0 322.4L297.5 322.5L300.0 322.7L302.5 322.8L305.0 322.9L307.5 322.9L310.0 323.0L312.5 323.0L315.0 323.1L317.5 323.1L320.0 323.2L322.5 323.2L325.0 323.2L327.5 323.2L330.0 323.2L332.5 323.3L335.0 323.2L337.5 323.2L340.0 323.2" stroke="#2ca02c" stroke-opacity="0.5" stroke-width="4" stroke-dasharray="12.3 5.3" stroke-dashoffset="15.0" fill="none" stroke-linejoin="round"/>
<path d="M90.0 323.3L92.5 323.2L95.0 323.2L97.5 323.1L100.0 323.0L102.5 322.9L105.0 322.7L107.5 322.6L110.0 322.4L112.5 322.2L115.0 321.8L117.5 321.4L120.0 321.0L122.5 320.5L125.0 319.8L127.5 319.0L130.0 317.8L132.5 315.3L135.0 311.0L137.5 305.9L140.0 299.8L142.5 292.3L145.0 283.1L147.5 272.4L150.0 260.9L152.5 248.5L155.0 235.3L157.5 220.4L160.0 202.6L162.5 181.8L165.0 160.0L167.5 137.4L170.0 115.9L172.5 99.8L175.0 86.9L177.5 77.4L180.0 71.5L182.5 68.8L185.0 70.0L187.5 74.6L190.0 82.0L192.5 92.0L195.0 104.1L197.5 117.2L200.0 131.7L202.5 145.6L205.0 158.4L207.5 171.4L210.0 183.5L212.5 194.5L215.0 206.8L217.5 219.8L220.0 233.7L222.5 246.1L225.0 257.1L227.5 267.3L230.0 275.9L232.5 282.9L235.0 288.5L237.5 293.2L240.0 297.3L242.5 300.9L245.0 304.2L247.5 307.2L250.0 309.6L252.5 311.8L255.0 313.6L257.5 315.1L260.0 316.2L262.5 317.1L265.0 317.9L267.5 318.7L270.0 319.3L272.5 319.7L275.0 320.2L277.5 320.6L280.0 321.1L282.5 321.4L285.0 321.7L287.5 322.0L290.0 322.1L292.5 322.3L295.0 322.4L297.5 322.6L300.0 322.7L302.5 322.8L305.0 322.9L307.5 322.9L310.0 323.0L312.5 323.0L315.0 323.1L317.5 323.1L320.0 323.2L322.5 323.2L325.0 323.2L327.5 323.2L330.0 323.2L332.5 323.2L335.0 323.2L337.5 323.2L340.0 323.2" stroke="#d62728" stroke-opacity="0.5" stroke-width="4" stroke-dasharray="12.3 5.3" stroke-dashoffset="4.9" fill="none" stroke-linejoin="round"/>
<path d="M90.0 323.3L92.5 323.2L95.0 323.2L97.5 323.1L100.0 323.0L102.5 322.9L105.0 322.7L107.5 322.6L110.0 322.4L112.5 322.2L115.0 321.8L117.5 321.4L120.0 321.0L122.5 320.5L125.0 319.8L127.5 319.1L130.0 318.0L132.5 316.2L135.0 312.7L137.5 308.3L140.0 302.7L142.5 295.4L145.0 286.7L147.5 277.2L150.0 266.6L152.5 254.6L155.0 240.9L157.5 225.8L160.0 209.8L162.5 192.5L165.0 175.0L167.5 158.0L170.0 141.7L172.5 128.7L175.0 121.0L177.5 117.7L180.0 117.6L182.5 116.2L185.0 114.1L187.5 111.3L190.0 104.8L192.5 98.1L195.0 93.8L197.5 92.3L200.0 97.8L202.5 113.1L205.0 133.9L207.5 156.1L210.0 175.0L212.5 191.0L215.0 205.9L217.5 220.2L220.0 233.4L222.5 245.3L225.0 256.0L227.5 265.6L230.0 274.0L232.5 281.5L235.0 287.9L237.5 292.9L240.0 297.0L242.5 300.7L245.0 304.2L247.5 307.3L250.0 310.0L252.5 312.1L255.0 313.9L257.5 315.4L260.0 316.5L262.5 317.4L265.0 318.3L267.5 319.0L270.0 319.6L272.5 320.1L275.0 320.5L277.5 320.8L280.0 321.2L282.5 321.5L285.0 321.8L287.5 322.0L290.0 322.1L292.5 322.3L295.0 322.4L297.5 322.5L300.0 322.7L302.5 322.8L305.0 322.9L307.5 322.9L310.0 323.0L312.5 323.0L315.0 323.1L317.5 323.1L320.0 323.2L322.5 323.2L325.0 323.2L327.5 323.2L330.0 323.2L332.5 323.2L335.0 323.2L337.5 323.2L340.0 323.2" stroke="#9467bd" stroke-opacity="0.5" stroke-width="4" stroke-dasharray="12.3 5.3" stroke-dashoffset="12.4" fill="none" stroke-linejoin="round"/>
<path d="M90.0 323.3L92.5 323.3L95.0 323.2L97.5 323.2L100.0 323.1L102.5 323.0L105.0 322.9L107.5 322.7L110.0 322.6L112.5 322.4L115.0 322.3L117.5 322.0L120.0 321.8L122.5 321.4L125.0 321.0L127.5 320.4L130.0 319.7L132.5 318.9L135.0 318.0L137.5 317.1L140.0 316.0L142.5 314.7L145.0 313.0L147.5 311.1L150.0 308.8L152.5 306.1L155.0 303.0L157.5 299.3L160.0 294.8L162.5 289.2L165.0 282.7L167.5 275.1L170.0 266.4L172.5 255.7L175.0 243.3L177.5 229.9L180.0 216.0L182.5 200.9L185.0 186.3L187.5 172.7L190.0 159.6L192.5 147.8L195.0 137.1L197.5 126.9L200.0 117.0L202.5 108.6L205.0 101.4L207.5 96.7L210.0 94.3L212.5 94.0L215.0 95.5L217.5 98.4L220.0 105.1L222.5 115.7L225.0 128.0L227.5 142.8L230.0 159.4L232.5 175.6L235.0 190.6L237.5 202.1L240.0 214.4L242.5 228.5L245.0 240.1L247.5 250.1L250.0 259.1L252.5 266.1L255.0 272.1L257.5 277.7L260.0 283.1L262.5 288.2L265.0 292.5L267.5 296.1L270.0 299.4L272.5 302.5L275.0 305.5L277.5 308.2L280.0 310.5L282.5 312.6L285.0 314.3L287.5 315.7L290.0 317.0L292.5 318.1L295.0 319.0L297.5 319.8L300.0 320.4L302.5 320.9L305.0 321.3L307.5 321.7L310.0 322.1L312.5 322.3L315.0 322.5L317.5 322.7L320.0 322.8L322.5 323.0L325.0 323.1L327.5 323.2L330.0 323.2L332.5 323.3L335.0 323.3L337.5 323.3L340.0 323.2" stroke="#8c564b" stroke-opacity="0.5" stroke-width="4" stroke-dasharray="12.3 5.3" stroke-dashoffset="2.3" fill="none" stroke-linejoin="round"/>
<path d="M90.0 323.5L92.5 323.5L95.0 323.4L97.5 323.4L100.0 323.3L102.5 323.2L105.0 323.2L107.5 323.1L110.0 323.0L112.5 322.9L115.0 322.8L117.5 322.7L120.0 322.5L122.5 322.3L125.0 322.0L127.5 321.6L130.0 320.9L132.5 320.2L135.0 319.5L137.5 318.8L140.0 317.9L142.5 316.8L145.0 315.3L147.5 313.7L150.0 312.0L152.5 310.2L155.0 308.3L157.5 305.4L160.0 301.1L162.5 295.9L165.0 289.8L167.5 282.8L170.0 275.0L172.5 266.2L175.0 256.0L177.5 244.1L180.0 231.1L182.5 216.8L185.0 201.2L187.5 185.3L190.0 169.0L192.5 148.8L195.0 136.2L197.5 124.2L200.0 111.5L202.5 99.9L205.0 86.6L207.5 73.2L210.0 65.0L212.5 60.6L215.0 58.5L217.5 58.7L220.0 63.1L222.5 75.2L225.0 95.1L227.5 114.7L230.0 137.1L232.5 171.6L235.0 187.0L237.5 197.5L240.0 213.3L242.5 226.7L245.0 238.6L247.5 249.4L250.0 257.8L252.5 264.7L255.0 271.0L257.5 277.2L260.0 283.2L262.5 288.5L265.0 292.7L267.5 296.4L270.0 299.9L272.5 303.2L275.0 306.2L277.5 308.7L280.0 310.9L282.5 312.8L285.0 314.4L287.5 315.8L290.0 317.0L292.5 318.1L295.0 319.1L297.5 319.8L300.0 320.4L302.5 320.9L305.0 321.3L307.5 321.7L310.0 322.1L312.5 322.3L315.0 322.5L317.5 322.7L320.0 322.8L322.5 322.9L325.0 323.1L327.5 323.2L330.0 323.2L332.5 323.3L335.0 323.3L337.5 323.3L340.0 323.2" stroke="#e377c2" stroke-opacity="0.5" stroke-width="4" stroke-dasharray="12.3 5.3" stroke-dashoffset="9.8" fill="none" stroke-linejoin="round"/>
<path d="M400.0 323.4L402.5 323.4L405.0 323.4L407.5 323.4L410.0 323.4L412.5 323.4L415.0 323.3L417.5 323.3L420.0 323.2L422.5 323.1L425.0 323.0L427.5 322.8L430.0 322.6L432.5 322.3L435.0 321.9L437.5 321.4L440.0 320.7L442.5 319.8L445.0 318.8L447.5 317.4L450.0 315.9L452.5 314.1L455.0 311.9L457.5 309.1L460.0 305.7L462.5 301.3L465.0 296.7L467.5 291.9L470.0 285.0L472.5 274.7L475.0 262.3L477.5 249.4L480.0 236.4L482.5 223.3L485.0 210.0L487.5 196.6L490.0 182.7L492.5 165.6L495.0 145.9L497.5 125.2L500.0 102.5L502.5 84.3L505.0 71.5L507.5 63.3L510.0 61.6L512.5 65.6L515.0 72.4L517.5 81.9L520.0 93.0L522.5 104.9L525.0 117.3L527.5 130.3L530.0 145.5L532.5 162.4L535.0 178.1L537.5 189.3L540.0 200.1L542.5 213.1L545.0 227.4L547.5 238.7L550.0 249.5L552.5 259.9L555.0 270.1L557.5 278.6L560.0 284.1L562.5 289.2L565.0 294.0L567.5 298.4L570.0 302.1L572.5 305.3L575.0 307.7L577.5 309.8L580.0 311.8L582.5 313.9L585.0 315.9L587.5 318.0L590.0 320.0L592.5 321.6L593.4 322.0" stroke="#1f77b4" stroke-opacity="0.5" stroke-width="4" stroke-dasharray="20 5 3.8 5 3.8 5" stroke-dashoffset="40.0" fill="none" stroke-linejoin="round"/>
<path d="M400.0 323.4L402.5 323.4L405.0 323.4L407.5 323.4L410.0 323.4L412.5 323.4L415.0 323.3L417.5 323.3L420.0 323.2L422.5 323.1L425.0 323.0L427.5 322.8L430.0 322.6L432.5 322.3L435.0 321.9L437.5 321.4L440.0 320.7L442.5 319.8L445.0 318.7L447.5 317.4L450.0 315.8L452.5 314.2L455.0 312.5L457.5 310.4L460.0 307.9L462.5 304.1L465.0 299.4L467.5 294.9L470.0 289.5L472.5 281.3L475.0 269.9L477.5 257.1L480.0 244.2L482.5 231.2L485.0 218.0L487.5 204.7L490.0 191.1L492.5 176.1L495.0 158.0L497.5 138.6L500.0 129.6L502.5 114.9L505.0 94.5L507.5 80.5L510.0 69.6L512.5 63.6L515.0 61.5L517.5 62.4L520.0 66.8L522.5 76.1L525.0 89.1L527.5 104.0L530.0 120.4L532.5 139.1L535.0 159.0L537.5 180.5L540.0 191.5L542.5 202.4L545.0 216.0L547.5 230.0L550.0 240.9L552.5 251.6L555.0 261.9L557.5 272.0L560.0 279.8L562.5 285.2L565.0 290.2L567.5 294.9L570.0 299.2L572.5 302.7L575.0 305.8L577.5 308.1L580.0 310.2L582.5 312.2L585.0 314.3L587.5 316.3L590.0 318.4L592.5 320.4L595.0 321.8L595.4 322.0" stroke="#ff7f0e" stroke-opacity="0.5" stroke-width="4" stroke-dasharray="20 5 3.8 5 3.8 5" stroke-dashoffset="32.2" fill="none" stroke-linejoin="round"/>
<path d="M400.0 323.4L402.5 323.4L405.0 323.4L407.5 323.4L410.0 323.4L412.5 323.4L415.0 323.3L417.5 323.3L420.0 323.2L422.5 323.1L425.0 323.0L427.5 322.8L430.0 322.6L432.5 322.3L435.0 321.9L437.5 321.4L440.0 320.7L442.5 319.8L445.0 318.8L447.5 317.4L450.0 315.8L452.5 314.2L455.0 312.1L457.5 309.6L460.0 306.5L462.5 302.2L465.0 297.6L467.5 292.9L470.0 286.6L472.5 277.0L475.0 264.8L477.5 252.0L480.0 239.1L482.5 225.9L485.0 212.7L487.5 199.3L490.0 185.6L492.5 169.3L495.0 149.9L497.5 129.0L500.0 113.4L502.5 106.1L505.0 99.0L507.5 92.5L510.0 86.7L512.5 79.8L515.0 73.2L517.5 68.3L520.0 66.7L522.5 71.1L525.0 81.1L527.5 94.9L530.0 111.6L532.5 135.9L535.0 154.9L537.5 170.7L540.0 185.8L542.5 198.1L545.0 210.3L547.5 224.6L550.0 236.6L552.5 247.3L555.0 257.8L557.5 268.1L560.0 277.2L562.5 283.1L565.0 288.2L567.5 293.1L570.0 297.6L572.5 301.4L575.0 304.7L577.5 307.2L580.0 309.3L582.5 311.4L585.0 313.5L587.5 315.5L590.0 317.5L592.5 319.6L595.0 321.4L596.4 322.0" stroke="#2ca02c" stroke-opacity="0.5" stroke-width="4" stroke-dasharray="20 5 3.8 5 3.8 5" stroke-dashoffset="36.1" fill="none" stroke-linejoin="round"/>
<path d="M400.0 323.4L402.5 323.4L405.0 323.5L407.5 323.4L410.0 323.4L412.5 323.4L415.0 323.4L417.5 323.3L420.0 323.2L422.5 323.2L425.0 323.1L427.5 323.0L430.0 322.9L432.5 322.7L435.0 322.5L437.5 322.3L440.0 322.0L442.5 321.6L445.0 321.0L447.5 320.3L450.0 319.4L452.5 318.3L455.0 316.9L457.5 315.1L460.0 312.9L462.5 310.2L465.0 307.3L467.5 303.9L470.0 300.0L472.5 294.9L475.0 288.8L477.5 282.4L480.0 274.7L482.5 264.1L485.0 251.4L487.5 238.0L490.0 224.5L492.5 210.3L495.0 191.8L497.5 174.7L500.0 160.5L502.5 147.0L505.0 133.8L507.5 121.8L510.0 112.4L512.5 103.9L515.0 95.8L517.5 88.0L520.0 79.8L522.5 72.4L525.0 67.5L527.5 68.1L530.0 74.3L532.5 86.6L535.0 103.7L537.5 121.7L540.0 138.6L542.5 152.8L545.0 170.6L547.5 190.8L550.0 210.9L552.5 227.4L555.0 240.9L557.5 252.9L560.0 264.0L562.5 273.3L565.0 280.9L567.5 287.4L570.0 292.7L572.5 297.2L575.0 301.0L577.5 304.4L580.0 307.2L582.5 309.9L585.0 312.5L587.5 315.0L590.0 317.5L592.5 319.8L594.4 321.5" stroke="#d62728" stroke-opacity="0.5" stroke-width="4" stroke-dasharray="20 5 3.8 5 3.8 5" stroke-dashoffset="32.3" fill="none" stroke-linejoin="round"/>
<path d="M400.0 323.4L402.5 323.5L405.0 323.5L407.5 323.5L410.0 323.5L412.5 323.5L415.0 323.5L417.5 323.5L420.0 323.4L422.5 323.4L425.0 323.3L427.5 323.2L430.0 323.1L432.5 323.0L435.0 322.8L437.5 322.6L440.0 322.3L442.5 322.0L445.0 321.6L447.5 321.1L450.0 320.4L452.5 319.6L455.0 318.7L457.5 317.6L460.0 316.3L462.5 314.6L465.0 312.4L467.5 309.7L470.0 306.8L472.5 303.5L475.0 299.9L477.5 295.9L480.0 291.6L482.5 287.0L485.0 281.9L487.5 276.4L490.0 270.7L492.5 264.1L495.0 254.7L497.5 243.4L500.0 231.9L502.5 220.2L505.0 208.8L507.5 199.4L510.0 189.0L512.5 169.2L515.0 155.5L517.5 143.2L520.0 131.6L522.5 121.1L525.0 111.7L527.5 104.7L530.0 94.5L532.5 82.6L535.0 73.9L537.5 69.6L540.0 71.6L542.5 79.5L545.0 93.4L547.5 109.0L550.0 123.8L552.5 140.2L555.0 157.8L557.5 171.3L560.0 184.0L562.5 196.4L565.0 212.2L567.5 227.2L570.0 239.6L572.5 252.1L575.0 264.6L577.5 277.1L580.0 287.4L582.5 293.0L585.0 298.0L587.5 303.0L590.0 308.3L592.5 313.9L594.4 318.5" stroke="#9467bd" stroke-opacity="0.5" stroke-width="4" stroke-dasharray="20 5 3.8 5 3.8 5" stroke-dashoffset="27.3" fill="none" stroke-linejoin="round"/>
<path d="M400.0 323.4L402.5 323.5L405.0 323.5L407.5 323.5L410.0 323.5L412.5 323.5L415.0 323.5L417.5 323.5L420.0 323.4L422.5 323.4L425.0 323.3L427.5 323.2L430.0 323.1L432.5 323.0L435.0 322.8L437.5 322.6L440.0 322.3L442.5 322.0L445.0 321.6L447.5 321.1L450.0 320.4L452.5 319.7L455.0 318.8L457.5 317.7L460.0 316.5L462.5 314.9L465.0 312.7L467.5 310.1L470.0 307.2L472.5 303.9L475.0 300.3L477.5 296.4L480.0 292.2L482.5 287.6L485.0 282.5L487.5 277.1L490.0 271.4L492.5 265.0L495.0 256.0L497.5 244.8L500.0 233.2L502.5 221.6L505.0 210.1L507.5 200.4L510.0 190.4L512.5 167.3L515.0 153.9L517.5 141.5L520.0 129.5L522.5 118.6L525.0 110.4L527.5 103.5L530.0 97.3L532.5 91.9L535.0 87.8L537.5 86.4L540.0 88.0L542.5 92.5L545.0 100.4L547.5 112.2L550.0 123.8L552.5 135.5L555.0 148.6L557.5 163.1L560.0 178.8L562.5 191.4L565.0 205.3L567.5 222.1L570.0 234.6L572.5 247.1L575.0 259.6L577.5 272.1L580.0 284.1L582.5 291.0L585.0 296.0L587.5 300.9L590.0 306.2L592.5 311.6L595.0 317.5L595.4 318.5" stroke="#8c564b" stroke-opacity="0.5" stroke-width="4" stroke-dasharray="20 5 3.8 5 3.8 5" stroke-dashoffset="42.3" fill="none" stroke-linejoin="round"/>
<path d="M400.0 323.4L402.5 323.4L405.0 323.4L407.5 323.4L410.0 323.4L412.5 323.4L415.0 323.3L417.5 323.3L420.0 323.2L422.5 323.1L425.0 323.0L427.5 322.8L430.0 322.6L432.5 322.3L435.0 321.9L437.5 321.4L440.0 320.7L442.5 319.8L445.0 318.8L447.5 317.7L450.0 316.0L452.5 313.6L455.0 310.2L457.5 306.3L460.0 302.0L462.5 297.6L465.0 293.0L467.5 286.6L470.0 277.0L472.5 264.8L475.0 252.0L477.5 239.1L480.0 225.9L482.5 212.7L485.0 199.3L487.5 185.6L490.0 169.3L492.5 149.9L495.0 128.5L497.5 118.1L500.0 113.5L502.5 106.7L505.0 100.9L507.5 98.4L510.0 97.1L512.5 95.7L515.0 93.3L517.5 87.7L520.0 86.0L522.5 89.8L525.0 96.3L527.5 103.5L530.0 121.0L532.5 140.9L535.0 161.6L537.5 183.1L540.0 198.9L542.5 210.3L545.0 224.6L547.5 236.6L550.0 247.3L552.5 257.8L555.0 268.1L557.5 277.2L560.0 283.1L562.5 288.2L565.0 293.1L567.5 297.6L570.0 301.4L572.5 304.7L575.0 307.2L577.5 309.3L580.0 311.4L582.5 313.5L585.0 315.5L587.5 317.5L590.0 319.6L592.5 321.4L593.9 322.0" stroke="#e377c2" stroke-opacity="0.5" stroke-width="4" stroke-dasharray="20 5 3.8 5 3.8 5" stroke-dashoffset="2.5" fill="none" stroke-linejoin="round"/>
</g>
<path d="M89.7 176.00H594.6" stroke="#000" stroke-width="2.64" stroke-dasharray="2.64 10.55" fill="none"/>
<path d="M90.2 324.0V28.0H594.6M90.2 324.0H594.6" stroke="#000" stroke-width="1.6" fill="none" stroke-linecap="square"/>
<path d="M594.6 324.0V28.0" stroke="#000" stroke-width="2.3" stroke-dasharray="19 12.65" fill="none"/>
<path d="M90.2 324.00h-8M90.2 250.00h-8M90.2 176.00h-8M90.2 102.00h-8M90.2 28.00h-8M594.6 324.00h8.3M594.6 264.80h8.3M594.6 205.60h8.3M594.6 146.40h8.3M594.6 87.20h8.3M594.6 28.00h8.3M133.14 324.0v7.8M195.90 324.0v7.8M258.66 324.0v7.8M321.42 324.0v7.8M384.18 324.0v7.8M446.94 324.0v7.8M509.70 324.0v7.8M572.46 324.0v7.8" stroke="#000" stroke-width="1.6" fill="none"/>
<path d="M91.30 324.0v4.8M112.22 324.0v4.8M154.06 324.0v4.8M174.98 324.0v4.8M216.82 324.0v4.8M237.74 324.0v4.8M279.58 324.0v4.8M300.50 324.0v4.8M342.34 324.0v4.8M363.26 324.0v4.8M405.10 324.0v4.8M426.02 324.0v4.8M467.86 324.0v4.8M488.78 324.0v4.8M530.62 324.0v4.8M551.54 324.0v4.8M593.38 324.0v4.8" stroke="#000" stroke-width="1.2" fill="none"/>
<text x="75.6" y="334.00" font-size="22.3" text-anchor="end">1.0</text>
<text x="75.6" y="260.00" font-size="22.3" text-anchor="end">1.5</text>
<text x="75.6" y="186.00" font-size="22.3" text-anchor="end">2.0</text>
<text x="75.6" y="112.00" font-size="22.3" text-anchor="end">2.5</text>
<text x="75.6" y="38.00" font-size="22.3" text-anchor="end">3.0</text>
<text x="609.6" y="333.50" font-size="22.3">0</text>
<text x="609.6" y="274.30" font-size="22.3">2</text>
<text x="609.6" y="215.10" font-size="22.3">4</text>
<text x="609.6" y="155.90" font-size="22.3">6</text>
<text x="609.6" y="96.70" font-size="22.3">8</text>
<text x="609.6" y="37.50" font-size="22.3">10</text>
<text transform="translate(131.64 350.20) rotate(-45)" font-size="20" text-anchor="end">6 AM</text>
<text transform="translate(194.40 350.20) rotate(-45)" font-size="20" text-anchor="end">9 AM</text>
<text transform="translate(257.16 350.20) rotate(-45)" font-size="20" text-anchor="end">12 PM</text>
<text transform="translate(319.92 350.20) rotate(-45)" font-size="20" text-anchor="end">3 PM</text>
<text transform="translate(382.68 350.20) rotate(-45)" font-size="20" text-anchor="end">6 PM</text>
<text transform="translate(445.44 350.20) rotate(-45)" font-size="20" text-anchor="end">9 PM</text>
<text transform="translate(508.20 350.20) rotate(-45)" font-size="20" text-anchor="end">12 AM</text>
<text transform="translate(570.96 350.20) rotate(-45)" font-size="20" text-anchor="end">3 AM</text>
<text x="342.5" y="15.1" font-size="19.8" text-anchor="middle">school in session</text>
<text x="116" y="60.5" font-size="22" font-weight="bold">A</text>
<path d="M91.30 457.3V752.8M112.22 457.3V752.8M133.14 457.3V752.8M154.06 457.3V752.8M174.98 457.3V752.8M195.90 457.3V752.8M216.82 457.3V752.8M237.74 457.3V752.8M258.66 457.3V752.8M279.58 457.3V752.8M300.50 457.3V752.8M321.42 457.3V752.8M342.34 457.3V752.8M363.26 457.3V752.8M384.18 457.3V752.8M405.10 457.3V752.8M426.02 457.3V752.8M446.94 457.3V752.8M467.86 457.3V752.8M488.78 457.3V752.8M509.70 457.3V752.8M530.62 457.3V752.8M551.54 457.3V752.8M572.46 457.3V752.8M593.38 457.3V752.8" stroke="#b0b0b0" stroke-width="1.7" fill="none"/>
<g clip-path="url(#c1)">
<path d="M90.0 734.0L91.7 732.6L93.5 742.7L95.2 736.4L97.0 735.9L98.7 740.5L100.4 732.7L102.2 733.8L103.9 738.9L105.7 741.6L107.4 741.3L109.1 739.2L110.9 736.9L112.6 744.8L114.4 749.8L116.1 744.2L117.8 742.3L119.6 742.6L121.3 738.5L123.1 741.9L124.8 738.4L126.5 739.6L128.3 741.7L130.0 738.9L131.8 736.9L133.5 742.3L135.2 736.3L137.0 737.4L138.7 738.8L140.5 739.3L142.2 730.1L143.9 735.0L145.7 734.2L147.4 731.5L149.2 727.0L150.9 731.0L152.6 724.7L154.4 726.0L156.1 723.6L157.9 725.6L159.6 723.6L161.3 714.8L163.1 712.2L164.8 712.6L166.6 709.5L168.3 708.4L170.0 708.2L171.8 701.3L173.5 699.5L175.3 700.3L177.0 704.2L178.7 688.3L180.5 689.4L182.2 686.8L184.0 683.4L185.7 676.6L187.4 671.3L189.2 667.5L190.9 662.5L192.7 657.6L194.4 655.7L196.1 647.5L197.9 646.0L199.6 647.0L201.4 639.9L203.1 635.7L204.8 632.1L206.6 629.8L208.3 627.6L210.1 624.3L211.8 620.4L213.5 615.8L215.3 614.3L217.0 604.2L218.8 607.9L220.5 602.7L222.2 599.8L224.0 591.1L225.7 595.8L227.5 580.1L229.2 583.2L230.9 568.2L232.7 575.6L234.4 576.5L236.2 572.5L237.9 570.2L239.6 566.8L241.4 556.3L243.1 562.7L244.9 557.4L246.6 561.3L248.3 561.1L250.1 559.7L251.8 549.7L253.6 548.0L255.3 550.9L257.0 550.1L258.8 545.2L260.5 546.4L262.3 545.8L264.0 542.9L265.7 542.6L267.5 540.2L269.2 538.8L271.0 539.1L272.7 541.2L274.4 537.5L276.2 531.9L277.9 536.6L279.7 537.9L281.4 536.1L283.1 533.9L284.9 538.8L286.6 540.0L288.4 533.3L290.1 533.6L291.8 535.6L293.6 537.0L295.3 546.7L297.1 539.4L298.8 544.6L300.5 545.9L302.3 543.1L304.0 542.9L305.8 539.2L307.5 538.8L309.2 537.5L311.0 537.1L312.7 537.0L314.5 540.3L316.2 538.9L317.9 542.5L319.7 544.6L321.4 549.5L323.2 544.3L324.9 539.2L326.6 547.9L328.4 541.9L330.1 541.8L331.9 537.3L333.6 539.6L335.3 542.7L337.1 540.5L338.8 546.6L340.6 545.9L342.3 540.3L344.0 538.7L345.8 538.3L347.5 540.2L349.3 540.3L351.0 538.9L352.7 542.9L354.5 542.1L356.2 546.7L358.0 552.0L359.7 545.3L361.4 547.5L363.2 545.1L364.9 548.9L366.7 547.8L368.4 542.8L370.1 548.1L371.9 548.3L373.6 553.1L375.4 551.2L377.1 550.7L378.8 550.3L380.6 550.6L382.3 547.3L384.1 546.3L385.8 545.8L387.5 548.2L389.3 545.6L391.0 552.4L392.8 560.8L394.5 550.5L396.2 545.2L398.0 553.2L399.7 547.7L401.5 556.5L403.2 555.1L404.9 550.1L406.7 558.1L408.4 553.4L410.2 551.7L411.9 550.0L413.6 557.0L415.4 549.2L417.1 550.2L418.9 550.7L420.6 549.0L422.3 551.2L424.1 551.0L425.8 556.6L427.6 549.2L429.3 558.2L431.0 553.5L432.8 551.8L434.5 558.7L436.3 557.3L438.0 559.4L439.7 562.7L441.5 559.8L443.2 563.3L445.0 564.3L446.7 565.4L448.4 561.6L450.2 561.6L451.9 558.5L453.7 557.7L455.4 564.0L457.1 563.9L458.9 564.0L460.6 567.3L462.4 569.0L464.1 574.5L465.8 572.2L467.6 571.6L469.3 568.7L471.1 571.6L472.8 578.1L474.5 578.8L476.3 580.0L478.0 582.0L479.8 580.8L481.5 576.7L483.2 583.1L485.0 581.3L486.7 586.7L488.5 596.6L490.2 601.3L491.9 606.9L493.7 608.1L495.4 613.5L497.2 614.3L498.9 614.9L500.6 625.5L502.4 627.3L504.1 625.5L505.9 632.1L507.6 643.0L509.3 643.6L511.1 647.6L512.8 653.0L514.6 658.4L516.3 657.7L518.0 661.4L519.8 662.5L521.5 670.0L523.3 669.8L525.0 678.8L526.7 686.7L528.5 686.9L530.2 689.9L532.0 695.5L533.7 699.1L535.4 699.4L537.2 702.6L538.9 708.2L540.7 714.3L542.4 714.2L544.1 716.0L545.9 714.5L547.6 728.8L549.4 728.2L551.1 731.5L552.8 729.8L554.6 729.2L556.3 728.5L558.1 733.5L559.8 731.5L561.5 736.5L563.3 736.8L565.0 736.5L566.8 743.3L568.5 733.6L570.2 736.5L572.0 733.3L573.7 734.2L575.5 736.7L577.2 737.8L578.9 740.7L580.7 739.3L582.4 739.2L584.2 736.4L585.9 738.6L587.6 737.1L589.4 748.3L591.1 751.8L592.9 751.3L594.4 752.6" stroke="#1f77b4" stroke-width="3.5" fill="none" stroke-linejoin="round" stroke-linecap="square"/>
<path d="M90.0 738.2L91.7 732.6L93.5 739.5L95.2 741.1L97.0 739.4L98.7 738.2L100.4 739.4L102.2 746.6L103.9 739.9L105.7 738.8L107.4 736.4L109.1 740.9L110.9 736.5L112.6 738.2L114.4 736.1L116.1 738.8L117.8 738.0L119.6 739.5L121.3 742.4L123.1 741.3L124.8 745.2L126.5 741.3L128.3 744.2L130.0 742.2L131.8 738.5L133.5 739.0L135.2 734.9L137.0 735.9L138.7 733.5L140.5 740.3L142.2 736.9L143.9 737.2L145.7 736.5L147.4 732.0L149.2 732.2L150.9 729.8L152.6 733.0L154.4 730.2L156.1 729.8L157.9 723.9L159.6 720.1L161.3 719.3L163.1 714.6L164.8 710.3L166.6 705.2L168.3 709.7L170.0 702.2L171.8 702.3L173.5 699.6L175.3 697.1L177.0 697.9L178.7 695.9L180.5 689.2L182.2 683.1L184.0 679.5L185.7 676.7L187.4 673.6L189.2 666.0L190.9 663.3L192.7 656.4L194.4 657.4L196.1 650.1L197.9 652.3L199.6 651.1L201.4 643.5L203.1 641.7L204.8 629.8L206.6 631.6L208.3 628.4L210.1 621.2L211.8 608.6L213.5 615.3L215.3 612.9L217.0 615.5L218.8 606.1L220.5 603.4L222.2 597.3L224.0 597.5L225.7 597.1L227.5 591.6L229.2 583.8L230.9 578.6L232.7 582.2L234.4 584.5L236.2 572.2L237.9 573.1L239.6 569.7L241.4 564.9L243.1 561.7L244.9 561.6L246.6 559.9L248.3 558.3L250.1 554.6L251.8 553.4L253.6 554.5L255.3 545.2L257.0 549.8L258.8 546.4L260.5 544.0L262.3 538.5L264.0 538.6L265.7 541.0L267.5 535.5L269.2 536.8L271.0 533.1L272.7 533.0L274.4 539.3L276.2 536.8L277.9 541.4L279.7 534.5L281.4 536.2L283.1 536.5L284.9 536.0L286.6 536.7L288.4 531.8L290.1 532.4L291.8 539.2L293.6 531.7L295.3 532.6L297.1 539.7L298.8 540.8L300.5 540.9L302.3 541.3L304.0 535.8L305.8 539.3L307.5 539.6L309.2 538.8L311.0 535.2L312.7 538.4L314.5 540.2L316.2 541.7L317.9 538.9L319.7 540.3L321.4 541.6L323.2 542.1L324.9 545.6L326.6 538.0L328.4 541.6L330.1 538.8L331.9 538.9L333.6 542.1L335.3 540.8L337.1 542.7L338.8 543.3L340.6 545.8L342.3 538.4L344.0 541.5L345.8 547.0L347.5 545.4L349.3 543.4L351.0 535.2L352.7 543.3L354.5 539.1L356.2 543.3L358.0 543.6L359.7 544.4L361.4 545.7L363.2 542.4L364.9 548.4L366.7 545.7L368.4 549.7L370.1 547.6L371.9 548.8L373.6 547.0L375.4 548.7L377.1 545.9L378.8 554.0L380.6 550.1L382.3 551.0L384.1 541.3L385.8 544.4L387.5 548.2L389.3 552.5L391.0 549.0L392.8 546.7L394.5 546.9L396.2 548.6L398.0 548.4L399.7 553.4L401.5 552.1L403.2 548.0L404.9 553.4L406.7 556.8L408.4 551.7L410.2 549.3L411.9 552.7L413.6 548.0L415.4 551.5L417.1 544.9L418.9 548.6L420.6 548.8L422.3 552.7L424.1 551.3L425.8 553.7L427.6 555.4L429.3 546.5L431.0 557.2L432.8 554.9L434.5 555.8L436.3 557.7L438.0 556.6L439.7 555.0L441.5 555.3L443.2 558.8L445.0 560.3L446.7 557.0L448.4 563.7L450.2 564.5L451.9 560.9L453.7 560.0L455.4 556.6L457.1 563.1L458.9 560.2L460.6 568.6L462.4 563.5L464.1 571.3L465.8 570.8L467.6 571.8L469.3 570.7L471.1 573.1L472.8 570.9L474.5 576.9L476.3 572.6L478.0 580.0L479.8 575.5L481.5 581.3L483.2 578.8L485.0 580.8L486.7 584.3L488.5 587.5L490.2 589.7L491.9 597.2L493.7 595.4L495.4 604.4L497.2 611.3L498.9 610.8L500.6 620.5L502.4 622.1L504.1 627.4L505.9 633.2L507.6 634.3L509.3 641.7L511.1 652.8L512.8 650.4L514.6 656.7L516.3 654.2L518.0 661.5L519.8 662.5L521.5 666.8L523.3 677.2L525.0 680.1L526.7 680.5L528.5 683.7L530.2 687.2L532.0 692.8L533.7 692.4L535.4 699.3L537.2 698.6L538.9 708.1L540.7 710.2L542.4 711.1L544.1 713.9L545.9 716.4L547.6 722.0L549.4 719.3L551.1 723.7L552.8 727.4L554.6 725.1L556.3 730.8L558.1 727.2L559.8 728.3L561.5 731.9L563.3 735.8L565.0 739.5L566.8 734.1L568.5 738.4L570.2 736.5L572.0 734.9L573.7 732.7L575.5 733.7L577.2 738.7L578.9 738.5L580.7 738.6L582.4 739.4L584.2 739.2L585.9 735.7L587.6 743.3L589.4 741.0L591.1 750.3L592.9 752.6L594.4 749.2" stroke="#ff7f0e" stroke-width="3.5" fill="none" stroke-linejoin="round" stroke-linecap="square"/>
<path d="M90.0 735.1L91.7 735.0L93.5 737.8L95.2 740.7L97.0 743.5L98.7 740.8L100.4 738.6L102.2 745.3L103.9 739.6L105.7 743.6L107.4 740.2L109.1 741.8L110.9 742.2L112.6 740.7L114.4 740.2L116.1 741.5L117.8 741.8L119.6 737.2L121.3 743.6L123.1 743.0L124.8 741.1L126.5 737.8L128.3 739.0L130.0 745.9L131.8 744.3L133.5 740.4L135.2 743.9L137.0 736.8L138.7 737.7L140.5 734.9L142.2 731.1L143.9 733.9L145.7 731.3L147.4 732.0L149.2 735.7L150.9 731.0L152.6 733.1L154.4 728.0L156.1 726.0L157.9 722.9L159.6 717.8L161.3 719.1L163.1 714.7L164.8 709.1L166.6 708.6L168.3 699.1L170.0 701.2L171.8 706.9L173.5 702.7L175.3 702.7L177.0 697.8L178.7 690.3L180.5 686.5L182.2 683.1L184.0 679.0L185.7 679.7L187.4 673.6L189.2 669.2L190.9 664.7L192.7 656.1L194.4 650.3L196.1 652.4L197.9 642.8L199.6 640.5L201.4 642.0L203.1 634.5L204.8 629.0L206.6 621.5L208.3 625.0L210.1 618.7L211.8 614.5L213.5 610.8L215.3 610.4L217.0 603.0L218.8 599.4L220.5 599.7L222.2 600.2L224.0 591.5L225.7 591.8L227.5 583.9L229.2 584.3L230.9 584.1L232.7 573.4L234.4 574.7L236.2 573.3L237.9 572.7L239.6 572.7L241.4 563.1L243.1 561.8L244.9 557.7L246.6 559.0L248.3 555.4L250.1 551.3L251.8 548.6L253.6 555.3L255.3 547.5L257.0 545.7L258.8 551.6L260.5 542.3L262.3 537.7L264.0 540.4L265.7 539.0L267.5 537.6L269.2 535.3L271.0 534.3L272.7 534.3L274.4 539.1L276.2 537.9L277.9 529.7L279.7 529.1L281.4 530.7L283.1 532.3L284.9 533.0L286.6 531.3L288.4 533.2L290.1 536.6L291.8 534.7L293.6 532.4L295.3 537.7L297.1 536.6L298.8 531.9L300.5 541.0L302.3 537.7L304.0 538.1L305.8 533.7L307.5 532.7L309.2 535.3L311.0 538.4L312.7 537.6L314.5 538.9L316.2 533.8L317.9 539.2L319.7 534.3L321.4 537.1L323.2 535.2L324.9 533.4L326.6 532.3L328.4 537.6L330.1 536.7L331.9 535.4L333.6 540.2L335.3 537.3L337.1 539.6L338.8 539.5L340.6 538.2L342.3 539.4L344.0 534.1L345.8 533.9L347.5 538.0L349.3 540.6L351.0 538.8L352.7 531.4L354.5 537.6L356.2 540.8L358.0 539.4L359.7 541.6L361.4 548.1L363.2 537.3L364.9 541.1L366.7 543.7L368.4 545.0L370.1 543.6L371.9 544.0L373.6 541.2L375.4 544.8L377.1 541.9L378.8 540.2L380.6 550.0L382.3 548.5L384.1 547.4L385.8 547.5L387.5 545.5L389.3 545.0L391.0 547.0L392.8 548.7L394.5 546.0L396.2 548.6L398.0 549.8L399.7 549.3L401.5 553.8L403.2 549.5L404.9 553.3L406.7 551.8L408.4 550.8L410.2 548.4L411.9 545.7L413.6 541.9L415.4 544.7L417.1 548.8L418.9 550.7L420.6 550.4L422.3 546.7L424.1 545.7L425.8 554.7L427.6 548.4L429.3 546.1L431.0 544.7L432.8 551.9L434.5 554.5L436.3 556.4L438.0 559.4L439.7 554.0L441.5 561.9L443.2 563.6L445.0 561.7L446.7 560.8L448.4 560.2L450.2 562.3L451.9 558.8L453.7 559.3L455.4 564.5L457.1 560.9L458.9 563.3L460.6 566.4L462.4 563.3L464.1 560.3L465.8 563.6L467.6 566.8L469.3 566.9L471.1 566.5L472.8 568.8L474.5 567.2L476.3 576.1L478.0 573.6L479.8 580.2L481.5 574.8L483.2 578.5L485.0 578.4L486.7 590.5L488.5 592.8L490.2 596.4L491.9 599.8L493.7 599.2L495.4 601.9L497.2 611.0L498.9 608.7L500.6 617.7L502.4 625.4L504.1 626.9L505.9 627.2L507.6 632.6L509.3 639.5L511.1 642.5L512.8 639.5L514.6 650.9L516.3 650.7L518.0 660.4L519.8 657.6L521.5 668.4L523.3 668.5L525.0 676.9L526.7 680.7L528.5 678.8L530.2 683.7L532.0 686.9L533.7 696.8L535.4 694.7L537.2 705.0L538.9 704.6L540.7 708.9L542.4 709.9L544.1 716.1L545.9 719.5L547.6 723.9L549.4 720.1L551.1 724.5L552.8 726.5L554.6 728.9L556.3 730.0L558.1 729.5L559.8 722.7L561.5 730.9L563.3 734.7L565.0 736.2L566.8 738.1L568.5 735.5L570.2 732.2L572.0 737.9L573.7 735.0L575.5 734.7L577.2 735.8L578.9 738.3L580.7 740.8L582.4 737.7L584.2 739.6L585.9 741.0L587.6 742.7L589.4 739.1L591.1 751.7L592.9 754.4L594.4 756.3" stroke="#2ca02c" stroke-width="3.5" fill="none" stroke-linejoin="round" stroke-linecap="square"/>
<path d="M90.0 734.5L91.7 738.6L93.5 742.8L95.2 745.8L97.0 736.5L98.7 741.1L100.4 734.1L102.2 740.3L103.9 740.1L105.7 740.3L107.4 740.6L109.1 738.3L110.9 742.6L112.6 734.4L114.4 744.9L116.1 736.8L117.8 745.2L119.6 744.8L121.3 746.5L123.1 740.7L124.8 738.2L126.5 738.4L128.3 743.0L130.0 739.9L131.8 739.9L133.5 741.5L135.2 734.7L137.0 732.8L138.7 739.8L140.5 733.8L142.2 734.1L143.9 734.0L145.7 728.1L147.4 731.4L149.2 733.6L150.9 728.0L152.6 730.8L154.4 723.9L156.1 719.1L157.9 715.6L159.6 713.6L161.3 712.0L163.1 707.7L164.8 711.2L166.6 708.3L168.3 701.5L170.0 703.3L171.8 702.5L173.5 698.4L175.3 692.1L177.0 686.0L178.7 685.3L180.5 677.2L182.2 676.6L184.0 670.9L185.7 668.4L187.4 669.3L189.2 664.7L190.9 659.9L192.7 654.0L194.4 651.1L196.1 650.1L197.9 645.1L199.6 640.5L201.4 637.2L203.1 635.1L204.8 628.1L206.6 622.8L208.3 622.3L210.1 611.8L211.8 608.7L213.5 598.5L215.3 601.0L217.0 600.3L218.8 597.7L220.5 591.7L222.2 592.6L224.0 592.3L225.7 587.4L227.5 577.6L229.2 581.4L230.9 575.2L232.7 576.2L234.4 576.4L236.2 573.6L237.9 567.4L239.6 562.1L241.4 565.2L243.1 560.2L244.9 551.6L246.6 557.4L248.3 550.4L250.1 547.5L251.8 554.8L253.6 550.6L255.3 547.4L257.0 544.3L258.8 544.9L260.5 546.9L262.3 546.6L264.0 548.9L265.7 546.3L267.5 540.5L269.2 541.4L271.0 540.9L272.7 545.1L274.4 535.7L276.2 537.8L277.9 542.2L279.7 536.4L281.4 530.2L283.1 535.3L284.9 543.8L286.6 536.1L288.4 542.9L290.1 541.4L291.8 541.5L293.6 543.8L295.3 544.0L297.1 542.1L298.8 545.3L300.5 540.9L302.3 544.1L304.0 543.4L305.8 536.8L307.5 546.3L309.2 531.9L311.0 539.3L312.7 538.3L314.5 544.7L316.2 542.5L317.9 544.2L319.7 542.8L321.4 538.0L323.2 544.7L324.9 537.7L326.6 536.3L328.4 542.7L330.1 548.5L331.9 543.3L333.6 544.3L335.3 543.0L337.1 544.4L338.8 539.0L340.6 541.9L342.3 537.8L344.0 539.2L345.8 542.7L347.5 544.0L349.3 541.3L351.0 538.1L352.7 541.1L354.5 538.2L356.2 540.4L358.0 547.6L359.7 545.3L361.4 542.8L363.2 551.6L364.9 550.2L366.7 549.5L368.4 548.7L370.1 551.5L371.9 550.8L373.6 550.8L375.4 554.3L377.1 552.7L378.8 559.0L380.6 553.2L382.3 559.4L384.1 549.7L385.8 559.3L387.5 551.2L389.3 553.5L391.0 554.3L392.8 558.0L394.5 555.2L396.2 553.7L398.0 555.0L399.7 555.6L401.5 555.4L403.2 556.1L404.9 554.9L406.7 551.3L408.4 548.4L410.2 555.0L411.9 550.9L413.6 553.2L415.4 552.1L417.1 556.2L418.9 550.1L420.6 552.8L422.3 553.7L424.1 557.8L425.8 556.5L427.6 561.2L429.3 562.5L431.0 555.7L432.8 556.6L434.5 560.0L436.3 562.7L438.0 564.8L439.7 566.1L441.5 564.0L443.2 565.7L445.0 566.6L446.7 569.9L448.4 563.2L450.2 567.1L451.9 570.2L453.7 567.9L455.4 571.0L457.1 563.0L458.9 571.0L460.6 571.0L462.4 570.9L464.1 577.7L465.8 577.2L467.6 578.6L469.3 576.5L471.1 580.4L472.8 582.6L474.5 582.6L476.3 587.9L478.0 583.1L479.8 583.9L481.5 582.5L483.2 584.1L485.0 586.5L486.7 596.9L488.5 600.6L490.2 605.2L491.9 606.2L493.7 612.0L495.4 619.2L497.2 623.0L498.9 626.8L500.6 624.3L502.4 626.9L504.1 634.0L505.9 639.8L507.6 645.4L509.3 649.2L511.1 654.5L512.8 655.8L514.6 654.7L516.3 660.0L518.0 663.5L519.8 672.1L521.5 676.4L523.3 676.1L525.0 686.8L526.7 687.9L528.5 689.3L530.2 692.5L532.0 700.7L533.7 695.6L535.4 704.7L537.2 705.3L538.9 712.6L540.7 714.3L542.4 714.7L544.1 716.3L545.9 719.2L547.6 725.3L549.4 717.5L551.1 728.3L552.8 725.4L554.6 726.3L556.3 727.0L558.1 730.8L559.8 732.6L561.5 734.9L563.3 728.4L565.0 729.3L566.8 733.0L568.5 735.2L570.2 733.9L572.0 736.8L573.7 745.4L575.5 739.9L577.2 745.1L578.9 746.0L580.7 745.4L582.4 741.7L584.2 742.6L585.9 747.5L587.6 744.5L589.4 744.4L591.1 752.3L592.9 753.1L594.4 748.3" stroke="#d62728" stroke-width="3.5" fill="none" stroke-linejoin="round" stroke-linecap="square"/>
<path d="M90.0 736.6L91.7 734.4L93.5 741.3L95.2 743.4L97.0 737.9L98.7 736.6L100.4 743.9L102.2 739.7L103.9 743.4L105.7 742.2L107.4 738.3L109.1 740.2L110.9 738.8L112.6 740.0L114.4 739.9L116.1 739.3L117.8 738.7L119.6 747.0L121.3 734.6L123.1 737.4L124.8 736.4L126.5 739.9L128.3 739.8L130.0 737.0L131.8 740.0L133.5 746.8L135.2 740.2L137.0 736.2L138.7 740.1L140.5 732.3L142.2 734.7L143.9 732.3L145.7 730.1L147.4 731.0L149.2 732.8L150.9 733.8L152.6 733.6L154.4 731.8L156.1 729.5L157.9 728.3L159.6 721.5L161.3 720.3L163.1 716.9L164.8 712.9L166.6 713.2L168.3 715.6L170.0 710.8L171.8 706.9L173.5 701.3L175.3 699.5L177.0 700.2L178.7 698.3L180.5 688.8L182.2 683.7L184.0 683.7L185.7 683.3L187.4 673.3L189.2 675.9L190.9 669.3L192.7 666.3L194.4 660.5L196.1 656.6L197.9 648.5L199.6 648.5L201.4 644.3L203.1 641.0L204.8 638.2L206.6 630.6L208.3 630.8L210.1 626.5L211.8 621.3L213.5 615.3L215.3 615.8L217.0 612.0L218.8 603.7L220.5 600.7L222.2 598.1L224.0 596.3L225.7 597.9L227.5 592.2L229.2 588.0L230.9 587.1L232.7 581.1L234.4 583.8L236.2 577.0L237.9 568.1L239.6 571.9L241.4 570.5L243.1 564.4L244.9 559.7L246.6 561.7L248.3 558.0L250.1 549.3L251.8 554.4L253.6 549.7L255.3 546.7L257.0 544.2L258.8 542.7L260.5 546.4L262.3 542.2L264.0 541.4L265.7 536.3L267.5 537.3L269.2 539.0L271.0 535.7L272.7 536.2L274.4 532.4L276.2 537.3L277.9 526.8L279.7 530.4L281.4 530.7L283.1 527.2L284.9 533.5L286.6 535.3L288.4 536.0L290.1 537.4L291.8 531.3L293.6 530.4L295.3 534.4L297.1 532.9L298.8 528.5L300.5 533.8L302.3 533.8L304.0 536.9L305.8 539.5L307.5 535.5L309.2 539.6L311.0 533.1L312.7 532.2L314.5 538.6L316.2 535.9L317.9 539.6L319.7 530.2L321.4 536.8L323.2 534.6L324.9 537.5L326.6 534.3L328.4 535.3L330.1 537.8L331.9 546.4L333.6 537.5L335.3 542.0L337.1 542.0L338.8 535.6L340.6 533.0L342.3 531.7L344.0 538.4L345.8 539.7L347.5 542.1L349.3 539.6L351.0 539.9L352.7 535.9L354.5 538.0L356.2 535.8L358.0 534.2L359.7 542.4L361.4 534.3L363.2 542.3L364.9 541.2L366.7 539.9L368.4 540.9L370.1 542.0L371.9 549.0L373.6 543.4L375.4 545.8L377.1 552.6L378.8 543.5L380.6 542.0L382.3 540.8L384.1 545.9L385.8 547.0L387.5 549.1L389.3 551.0L391.0 550.6L392.8 548.9L394.5 550.4L396.2 545.3L398.0 548.2L399.7 547.2L401.5 544.6L403.2 550.2L404.9 550.4L406.7 548.8L408.4 540.6L410.2 548.1L411.9 545.0L413.6 545.7L415.4 548.8L417.1 541.6L418.9 543.9L420.6 547.0L422.3 545.5L424.1 542.2L425.8 552.3L427.6 540.1L429.3 544.1L431.0 544.9L432.8 548.8L434.5 548.3L436.3 548.4L438.0 551.6L439.7 552.7L441.5 553.2L443.2 556.7L445.0 552.6L446.7 554.8L448.4 551.4L450.2 559.1L451.9 552.8L453.7 560.7L455.4 558.4L457.1 555.6L458.9 557.3L460.6 561.0L462.4 563.0L464.1 569.8L465.8 559.3L467.6 561.0L469.3 560.1L471.1 559.4L472.8 567.9L474.5 569.1L476.3 570.3L478.0 565.0L479.8 569.8L481.5 577.2L483.2 582.7L485.0 578.1L486.7 580.2L488.5 580.4L490.2 577.6L491.9 586.9L493.7 594.3L495.4 592.8L497.2 595.4L498.9 598.2L500.6 603.6L502.4 612.1L504.1 614.3L505.9 613.6L507.6 618.9L509.3 627.2L511.1 627.4L512.8 631.9L514.6 632.6L516.3 637.3L518.0 644.6L519.8 646.5L521.5 653.3L523.3 655.3L525.0 656.0L526.7 654.1L528.5 655.5L530.2 656.9L532.0 659.4L533.7 667.3L535.4 668.7L537.2 672.3L538.9 676.7L540.7 678.9L542.4 688.6L544.1 693.9L545.9 694.7L547.6 702.3L549.4 710.9L551.1 707.7L552.8 707.0L554.6 714.9L556.3 712.6L558.1 718.1L559.8 726.1L561.5 716.7L563.3 719.1L565.0 722.7L566.8 720.1L568.5 724.3L570.2 723.3L572.0 720.5L573.7 728.2L575.5 726.9L577.2 730.0L578.9 733.2L580.7 726.4L582.4 732.6L584.2 731.1L585.9 731.5L587.6 734.7L589.4 742.4L591.1 746.0L592.9 752.2L594.4 752.6" stroke="#9467bd" stroke-width="3.5" fill="none" stroke-linejoin="round" stroke-linecap="square"/>
<path d="M90.0 732.4L91.7 740.8L93.5 741.1L95.2 740.1L97.0 739.9L98.7 741.9L100.4 745.6L102.2 741.9L103.9 748.1L105.7 738.4L107.4 744.8L109.1 734.7L110.9 737.9L112.6 743.0L114.4 739.7L116.1 741.0L117.8 742.9L119.6 743.5L121.3 737.4L123.1 738.2L124.8 740.6L126.5 741.0L128.3 742.2L130.0 740.2L131.8 739.0L133.5 742.7L135.2 737.9L137.0 738.0L138.7 736.0L140.5 736.5L142.2 738.4L143.9 738.7L145.7 737.0L147.4 734.0L149.2 729.0L150.9 735.8L152.6 728.0L154.4 726.0L156.1 724.4L157.9 719.5L159.6 722.2L161.3 718.4L163.1 717.2L164.8 710.2L166.6 706.8L168.3 705.3L170.0 694.4L171.8 695.1L173.5 695.4L175.3 693.3L177.0 692.7L178.7 690.3L180.5 684.2L182.2 679.0L184.0 680.4L185.7 671.0L187.4 669.7L189.2 670.4L190.9 664.5L192.7 652.1L194.4 659.2L196.1 653.5L197.9 649.5L199.6 641.3L201.4 637.5L203.1 637.4L204.8 632.0L206.6 628.8L208.3 630.3L210.1 618.6L211.8 619.0L213.5 612.3L215.3 610.1L217.0 603.9L218.8 597.5L220.5 594.1L222.2 593.5L224.0 584.5L225.7 592.0L227.5 583.7L229.2 583.6L230.9 576.6L232.7 576.6L234.4 585.8L236.2 573.1L237.9 570.5L239.6 560.3L241.4 555.7L243.1 555.7L244.9 556.6L246.6 555.8L248.3 549.4L250.1 549.9L251.8 550.4L253.6 541.7L255.3 546.7L257.0 547.9L258.8 546.8L260.5 543.6L262.3 540.0L264.0 540.4L265.7 539.0L267.5 535.9L269.2 536.5L271.0 535.9L272.7 541.6L274.4 530.9L276.2 533.4L277.9 532.4L279.7 531.0L281.4 535.2L283.1 530.5L284.9 532.7L286.6 533.9L288.4 537.5L290.1 539.2L291.8 538.4L293.6 531.3L295.3 539.7L297.1 533.5L298.8 546.9L300.5 540.8L302.3 533.8L304.0 536.7L305.8 539.9L307.5 542.8L309.2 536.7L311.0 532.3L312.7 533.6L314.5 532.5L316.2 534.4L317.9 537.3L319.7 538.9L321.4 537.8L323.2 530.9L324.9 531.9L326.6 534.4L328.4 537.0L330.1 537.7L331.9 542.5L333.6 537.5L335.3 538.5L337.1 535.7L338.8 536.8L340.6 535.1L342.3 536.4L344.0 535.1L345.8 536.4L347.5 534.1L349.3 534.7L351.0 536.2L352.7 540.2L354.5 541.4L356.2 541.3L358.0 536.4L359.7 533.4L361.4 534.5L363.2 541.6L364.9 541.4L366.7 538.6L368.4 544.4L370.1 549.7L371.9 539.2L373.6 545.0L375.4 544.1L377.1 544.5L378.8 543.6L380.6 538.3L382.3 543.8L384.1 547.0L385.8 542.7L387.5 543.1L389.3 553.1L391.0 543.4L392.8 553.8L394.5 545.4L396.2 546.4L398.0 549.5L399.7 552.9L401.5 551.5L403.2 550.5L404.9 551.8L406.7 554.4L408.4 550.1L410.2 549.1L411.9 544.7L413.6 546.3L415.4 549.5L417.1 554.0L418.9 543.5L420.6 549.6L422.3 552.0L424.1 552.6L425.8 545.7L427.6 546.0L429.3 551.2L431.0 546.4L432.8 550.5L434.5 552.9L436.3 553.8L438.0 554.1L439.7 557.5L441.5 557.5L443.2 560.6L445.0 557.7L446.7 555.3L448.4 559.1L450.2 559.9L451.9 559.6L453.7 565.7L455.4 562.8L457.1 562.6L458.9 561.9L460.6 558.9L462.4 564.0L464.1 565.4L465.8 570.3L467.6 570.8L469.3 568.8L471.1 573.1L472.8 572.1L474.5 571.7L476.3 577.9L478.0 577.4L479.8 576.5L481.5 574.0L483.2 574.4L485.0 577.6L486.7 581.5L488.5 586.3L490.2 592.0L491.9 594.8L493.7 598.4L495.4 601.8L497.2 600.6L498.9 611.2L500.6 610.0L502.4 615.5L504.1 620.3L505.9 621.8L507.6 622.7L509.3 627.7L511.1 636.7L512.8 638.2L514.6 638.2L516.3 647.2L518.0 645.9L519.8 653.0L521.5 655.2L523.3 664.8L525.0 663.9L526.7 670.4L528.5 681.3L530.2 678.3L532.0 685.3L533.7 689.4L535.4 701.6L537.2 691.9L538.9 701.4L540.7 697.6L542.4 707.2L544.1 705.8L545.9 713.3L547.6 715.4L549.4 719.8L551.1 719.8L552.8 721.9L554.6 722.5L556.3 722.3L558.1 720.8L559.8 725.8L561.5 725.4L563.3 729.1L565.0 726.5L566.8 729.8L568.5 732.4L570.2 732.1L572.0 730.8L573.7 732.2L575.5 734.8L577.2 735.2L578.9 736.8L580.7 734.9L582.4 739.8L584.2 740.4L585.9 739.0L587.6 738.4L589.4 738.8L591.1 746.3L592.9 746.1L594.4 747.7" stroke="#8c564b" stroke-width="3.5" fill="none" stroke-linejoin="round" stroke-linecap="square"/>
<path d="M90.0 738.1L91.7 734.6L93.5 736.9L95.2 734.6L97.0 739.3L98.7 742.0L100.4 739.2L102.2 740.7L103.9 743.0L105.7 748.0L107.4 739.7L109.1 742.9L110.9 745.3L112.6 741.7L114.4 745.9L116.1 746.0L117.8 744.3L119.6 737.2L121.3 743.8L123.1 743.6L124.8 741.8L126.5 741.3L128.3 734.5L130.0 741.1L131.8 739.3L133.5 733.5L135.2 740.4L137.0 736.5L138.7 732.9L140.5 737.2L142.2 735.1L143.9 735.7L145.7 731.3L147.4 733.9L149.2 728.3L150.9 731.6L152.6 729.8L154.4 732.6L156.1 724.0L157.9 726.3L159.6 722.1L161.3 723.1L163.1 724.0L164.8 721.2L166.6 715.1L168.3 708.7L170.0 708.5L171.8 707.9L173.5 698.4L175.3 696.7L177.0 697.2L178.7 694.8L180.5 689.1L182.2 683.3L184.0 687.5L185.7 680.5L187.4 674.7L189.2 673.6L190.9 675.0L192.7 663.9L194.4 656.1L196.1 656.3L197.9 653.3L199.6 643.2L201.4 653.5L203.1 644.5L204.8 641.9L206.6 638.4L208.3 637.1L210.1 626.0L211.8 623.1L213.5 619.5L215.3 614.0L217.0 609.7L218.8 601.9L220.5 605.5L222.2 600.9L224.0 595.7L225.7 596.7L227.5 587.6L229.2 593.9L230.9 589.3L232.7 585.8L234.4 582.6L236.2 579.3L237.9 568.3L239.6 568.2L241.4 566.5L243.1 562.6L244.9 566.3L246.6 568.2L248.3 562.8L250.1 559.6L251.8 559.1L253.6 553.3L255.3 552.2L257.0 552.6L258.8 550.9L260.5 551.7L262.3 547.8L264.0 542.3L265.7 545.5L267.5 545.0L269.2 543.0L271.0 544.9L272.7 540.4L274.4 533.8L276.2 535.0L277.9 541.7L279.7 538.8L281.4 545.2L283.1 540.0L284.9 542.2L286.6 543.9L288.4 542.5L290.1 542.7L291.8 542.2L293.6 541.7L295.3 544.8L297.1 538.9L298.8 539.4L300.5 540.1L302.3 538.8L304.0 535.6L305.8 537.4L307.5 535.0L309.2 532.0L311.0 540.1L312.7 536.8L314.5 543.9L316.2 543.4L317.9 538.8L319.7 537.7L321.4 537.1L323.2 545.6L324.9 543.6L326.6 544.2L328.4 540.5L330.1 545.1L331.9 538.8L333.6 543.9L335.3 543.9L337.1 540.4L338.8 552.2L340.6 543.8L342.3 543.7L344.0 541.3L345.8 541.5L347.5 540.5L349.3 543.9L351.0 542.2L352.7 546.9L354.5 547.9L356.2 542.1L358.0 546.1L359.7 547.5L361.4 543.3L363.2 544.7L364.9 550.3L366.7 545.7L368.4 546.3L370.1 554.3L371.9 554.0L373.6 555.2L375.4 556.4L377.1 554.2L378.8 546.1L380.6 552.6L382.3 552.3L384.1 551.7L385.8 552.3L387.5 550.5L389.3 554.4L391.0 555.1L392.8 552.8L394.5 553.6L396.2 556.3L398.0 553.3L399.7 551.9L401.5 552.9L403.2 549.7L404.9 549.5L406.7 551.4L408.4 547.9L410.2 554.0L411.9 550.1L413.6 555.5L415.4 550.2L417.1 553.4L418.9 555.2L420.6 552.2L422.3 553.9L424.1 558.8L425.8 562.8L427.6 554.0L429.3 553.9L431.0 549.1L432.8 557.7L434.5 556.0L436.3 558.0L438.0 554.6L439.7 558.5L441.5 561.6L443.2 556.2L445.0 562.0L446.7 560.1L448.4 562.5L450.2 567.8L451.9 566.6L453.7 566.0L455.4 561.7L457.1 567.0L458.9 564.6L460.6 567.6L462.4 570.4L464.1 572.0L465.8 571.9L467.6 576.7L469.3 576.9L471.1 574.7L472.8 571.7L474.5 571.9L476.3 574.5L478.0 575.3L479.8 582.8L481.5 583.6L483.2 584.7L485.0 590.9L486.7 592.6L488.5 595.1L490.2 597.0L491.9 605.1L493.7 611.0L495.4 618.3L497.2 621.1L498.9 621.9L500.6 619.6L502.4 628.1L504.1 632.0L505.9 632.6L507.6 642.2L509.3 638.7L511.1 639.1L512.8 645.7L514.6 651.6L516.3 659.1L518.0 653.1L519.8 662.6L521.5 669.4L523.3 674.7L525.0 679.6L526.7 687.7L528.5 686.3L530.2 688.4L532.0 695.3L533.7 696.7L535.4 702.7L537.2 706.3L538.9 708.7L540.7 706.6L542.4 710.7L544.1 711.7L545.9 721.5L547.6 723.6L549.4 720.4L551.1 728.2L552.8 722.9L554.6 725.8L556.3 729.9L558.1 727.0L559.8 729.1L561.5 736.2L563.3 734.3L565.0 733.6L566.8 736.3L568.5 735.1L570.2 728.1L572.0 732.0L573.7 737.7L575.5 736.4L577.2 736.3L578.9 734.3L580.7 736.6L582.4 740.2L584.2 739.5L585.9 735.1L587.6 744.6L589.4 743.6L591.1 755.5L592.9 754.2L594.4 751.9" stroke="#e377c2" stroke-width="3.5" fill="none" stroke-linejoin="round" stroke-linecap="square"/>
<path d="M92.6 752.0L95.1 751.4L97.6 750.7L100.1 750.0L102.6 749.2L105.1 748.3L107.6 747.4L110.1 746.4L112.6 745.3L115.1 744.1L117.6 742.7L120.1 741.0L122.6 739.0L125.1 736.8L127.6 734.5L130.1 732.2L132.6 729.8L135.1 727.1L137.6 724.0L140.1 720.4L142.6 716.1L145.1 711.2L147.6 705.8L150.1 700.0L152.6 693.8L155.1 687.4L157.6 681.0L160.1 674.5L162.6 668.0L165.1 661.6L167.6 655.2L170.1 648.8L172.6 642.5L175.1 636.8L177.6 631.5L180.1 625.8L182.6 619.6L185.1 613.3L187.6 607.2L190.1 601.2L192.6 595.8L195.1 593.7L197.6 595.9L200.1 592.9L202.6 592.0L205.1 592.6L207.6 594.3L210.1 596.5L212.6 591.9L215.1 595.1L217.6 599.9L220.1 605.5L222.6 611.3L225.1 617.1L227.6 623.2L230.1 629.4L232.6 636.2L235.1 644.0L237.6 651.8L240.1 659.1L242.6 666.4L245.1 673.7L247.6 681.0L250.1 688.2L252.6 695.1L255.1 701.1L257.6 706.7L260.1 711.9L262.6 716.6L265.1 720.7L267.6 724.2L270.1 727.4L272.6 730.2L275.1 732.5L277.6 734.6L280.1 736.6L282.6 738.3L285.1 739.7L287.6 741.1L290.1 742.3L292.6 743.3L295.1 744.3L297.6 745.1L300.1 745.9L302.6 746.7L305.1 747.3L307.6 747.9L310.1 748.4L312.6 748.9L315.1 749.4L317.6 749.8L320.1 750.1L322.6 750.5L325.1 750.7L327.6 751.0L330.1 751.2L332.6 751.4L335.1 751.6L337.6 751.7L340.1 751.9L342.6 752.0L345.1 752.1L347.6 752.2L350.1 752.2L352.6 752.3L355.1 752.4L357.6 752.4L360.1 752.5L362.6 752.5L365.1 752.5L367.6 752.6L370.1 752.6L372.6 752.6L375.1 752.5L377.6 752.5L378.0 752.5" stroke="#1f77b4" stroke-opacity="0.5" stroke-width="4" stroke-dasharray="12.3 5.3" stroke-dashoffset="0.0" fill="none" stroke-linejoin="round"/>
<path d="M91.0 752.0L93.5 751.4L96.0 750.7L98.5 750.0L101.0 749.2L103.5 748.3L106.0 747.4L108.5 746.4L111.0 745.3L113.5 744.1L116.0 742.7L118.5 741.0L121.0 739.0L123.5 736.8L126.0 734.5L128.5 732.2L131.0 729.8L133.5 727.1L136.0 724.0L138.5 720.4L141.0 716.1L143.5 711.2L146.0 705.8L148.5 700.0L151.0 693.8L153.5 687.4L156.0 681.0L158.5 674.5L161.0 668.0L163.5 661.6L166.0 655.2L168.5 648.8L171.0 642.5L173.5 636.8L176.0 631.5L178.5 625.8L181.0 619.5L183.5 613.2L186.0 607.3L188.5 601.7L191.0 596.1L193.5 590.3L196.0 584.5L198.5 579.2L201.0 575.8L203.5 573.5L206.0 572.1L208.5 571.9L211.0 573.7L213.5 578.1L216.0 582.4L218.5 588.7L221.0 597.2L223.5 604.8L226.0 610.7L228.5 616.2L231.0 622.2L233.5 628.4L236.0 635.1L238.5 642.7L241.0 650.6L243.5 658.0L246.0 665.3L248.5 672.5L251.0 679.8L253.5 687.1L256.0 694.0L258.5 700.2L261.0 705.8L263.5 711.1L266.0 715.9L268.5 720.1L271.0 723.7L273.5 726.9L276.0 729.7L278.5 732.1L281.0 734.3L283.5 736.3L286.0 738.0L288.5 739.5L291.0 740.9L293.5 742.1L296.0 743.2L298.5 744.1L301.0 745.0L303.5 745.8L306.0 746.5L308.5 747.2L311.0 747.8L313.5 748.3L316.0 748.8L318.5 749.3L321.0 749.7L323.5 750.1L326.0 750.4L328.5 750.7L331.0 750.9L333.5 751.2L336.0 751.4L338.5 751.6L341.0 751.7L343.5 751.9L346.0 752.0L348.5 752.1L351.0 752.1L353.5 752.2L356.0 752.3L358.5 752.4L361.0 752.4L363.5 752.5L366.0 752.5L368.5 752.5L371.0 752.6L373.5 752.6L376.0 752.6L378.5 752.5L381.0 752.5L381.8 752.5" stroke="#ff7f0e" stroke-opacity="0.5" stroke-width="4" stroke-dasharray="12.3 5.3" stroke-dashoffset="7.5" fill="none" stroke-linejoin="round"/>
<path d="M91.8 752.0L94.3 751.4L96.8 750.7L99.3 750.0L101.8 749.2L104.3 748.3L106.8 747.4L109.3 746.4L111.8 745.3L114.3 744.1L116.8 742.7L119.3 741.0L121.8 739.0L124.3 736.8L126.8 734.5L129.3 732.2L131.8 729.8L134.3 727.1L136.8 724.0L139.3 720.4L141.8 716.1L144.3 711.2L146.8 705.8L149.3 700.0L151.8 693.8L154.3 687.4L156.8 681.0L159.3 674.5L161.8 668.0L164.3 661.6L166.8 655.2L169.3 648.8L171.8 642.5L174.3 636.8L176.8 631.5L179.3 625.8L181.8 619.5L184.3 613.2L186.8 607.3L189.3 601.7L191.8 596.1L194.3 590.3L196.8 584.5L199.3 581.4L201.8 584.2L204.3 581.3L206.8 580.8L209.3 582.3L211.8 585.3L214.3 589.8L216.8 594.4L219.3 599.0L221.8 603.6L224.3 609.0L226.8 615.1L229.3 621.2L231.8 627.3L234.3 633.9L236.8 641.5L239.3 649.4L241.8 656.8L244.3 664.1L246.8 671.4L249.3 678.6L251.8 685.9L254.3 693.0L256.8 699.2L259.3 704.9L261.8 710.3L264.3 715.1L266.8 719.4L269.3 723.1L271.8 726.4L274.3 729.3L276.8 731.8L279.3 734.0L281.8 736.0L284.3 737.8L286.8 739.3L289.3 740.6L291.8 741.9L294.3 743.0L296.8 744.0L299.3 744.9L301.8 745.7L304.3 746.4L306.8 747.1L309.3 747.7L311.8 748.2L314.3 748.7L316.8 749.2L319.3 749.6L321.8 750.0L324.3 750.4L326.8 750.6L329.3 750.9L331.8 751.1L334.3 751.3L336.8 751.5L339.3 751.7L341.8 751.8L344.3 752.0L346.8 752.0L349.3 752.1L351.8 752.2L354.3 752.3L356.8 752.4L359.3 752.4L361.8 752.5L364.3 752.5L366.8 752.5L369.3 752.6L371.8 752.6L374.3 752.6L376.8 752.5L379.3 752.5L380.5 752.5" stroke="#2ca02c" stroke-opacity="0.5" stroke-width="4" stroke-dasharray="12.3 5.3" stroke-dashoffset="15.0" fill="none" stroke-linejoin="round"/>
<path d="M90.0 752.0L92.5 751.6L95.0 751.0L97.5 750.3L100.0 749.5L102.5 748.6L105.0 747.6L107.5 746.5L110.0 745.2L112.5 743.9L115.0 742.4L117.5 740.6L120.0 738.4L122.5 736.0L125.0 733.4L127.5 730.7L130.0 728.0L132.5 725.0L135.0 721.6L137.5 717.4L140.0 712.1L142.5 706.0L145.0 699.6L147.5 692.8L150.0 686.0L152.5 679.0L155.0 671.8L157.5 664.7L160.0 658.0L162.5 652.1L165.0 646.6L167.5 641.0L170.0 634.9L172.5 628.5L175.0 622.4L177.5 616.5L180.0 611.7L182.5 608.6L185.0 606.9L187.5 605.7L190.0 604.7L192.5 603.6L195.0 602.7L197.5 602.1L200.0 601.6L202.5 601.2L205.0 600.8L207.5 600.8L210.0 601.3L212.5 602.1L215.0 601.9L217.5 602.3L220.0 605.2L222.5 611.2L225.0 618.0L227.5 624.2L230.0 630.4L232.5 637.4L235.0 645.3L237.5 653.0L240.0 660.3L242.5 667.6L245.0 674.9L247.5 682.1L250.0 689.4L252.5 696.1L255.0 702.0L257.5 707.5L260.0 712.7L262.5 717.3L265.0 721.3L267.5 724.7L270.0 727.9L272.5 730.6L275.0 732.8L277.5 735.0L280.0 736.9L282.5 738.5L285.0 739.9L287.5 741.3L290.0 742.5L292.5 743.5L295.0 744.4L297.5 745.3L300.0 746.0L302.5 746.8L305.0 747.4L307.5 747.9L310.0 748.5L312.5 749.0L315.0 749.4L317.5 749.8L320.0 750.2L322.5 750.5L325.0 750.8L327.5 751.0L330.0 751.2L332.5 751.4L335.0 751.6L337.5 751.8L340.0 751.9L342.5 752.0L345.0 752.1L347.5 752.2L350.0 752.3L352.5 752.3L355.0 752.4L357.5 752.4L360.0 752.5L362.5 752.5L365.0 752.5L367.5 752.6L370.0 752.6L372.5 752.6L375.0 752.5L377.5 752.5" stroke="#d62728" stroke-opacity="0.5" stroke-width="4" stroke-dasharray="12.3 5.3" stroke-dashoffset="4.9" fill="none" stroke-linejoin="round"/>
<path d="M93.5 752.0L96.0 751.4L98.5 750.7L101.0 750.0L103.5 749.2L106.0 748.3L108.5 747.4L111.0 746.4L113.5 745.3L116.0 744.1L118.5 742.7L121.0 741.0L123.5 739.0L126.0 736.8L128.5 734.5L131.0 732.2L133.5 729.8L136.0 727.1L138.5 724.0L141.0 720.4L143.5 716.1L146.0 711.2L148.5 705.8L151.0 700.0L153.5 693.8L156.0 687.4L158.5 681.0L161.0 674.5L163.5 668.0L166.0 661.6L168.5 655.2L171.0 648.9L173.5 642.5L176.0 635.8L178.5 628.8L181.0 621.8L183.5 614.6L186.0 607.6L188.5 600.9L191.0 594.4L193.5 588.2L196.0 582.3L198.5 577.0L201.0 573.8L203.5 572.9L206.0 575.0L208.5 579.5L211.0 584.9L213.5 590.5L216.0 594.3L218.5 597.3L221.0 601.0L223.5 606.3L226.0 612.1L228.5 618.1L231.0 624.2L233.5 630.4L236.0 637.4L238.5 645.3L241.0 653.0L243.5 660.3L246.0 667.6L248.5 674.9L251.0 682.1L253.5 689.4L256.0 696.1L258.5 702.0L261.0 707.5L263.5 712.7L266.0 717.3L268.5 721.3L271.0 724.7L273.5 727.9L276.0 730.6L278.5 732.8L281.0 735.0L283.5 736.9L286.0 738.5L288.5 739.9L291.0 741.3L293.5 742.5L296.0 743.5L298.5 744.4L301.0 745.3L303.5 746.0L306.0 746.8L308.5 747.4L311.0 747.9L313.5 748.5L316.0 749.0L318.5 749.4L321.0 749.8L323.5 750.2L326.0 750.5L328.5 750.8L331.0 751.0L333.5 751.2L336.0 751.4L338.5 751.6L341.0 751.8L343.5 751.9L346.0 752.0L348.5 752.1L351.0 752.2L353.5 752.3L356.0 752.3L358.5 752.4L361.0 752.4L363.5 752.5L366.0 752.5L368.5 752.5L371.0 752.6L373.5 752.6L376.0 752.6L378.5 752.5L381.0 752.5" stroke="#9467bd" stroke-opacity="0.5" stroke-width="4" stroke-dasharray="12.3 5.3" stroke-dashoffset="12.4" fill="none" stroke-linejoin="round"/>
<path d="M90.0 750.0L92.5 749.1L95.0 748.1L97.5 747.1L100.0 746.0L102.5 744.8L105.0 743.6L107.5 742.3L110.0 740.9L112.5 739.4L115.0 737.9L117.5 736.2L120.0 734.2L122.5 732.1L125.0 729.9L127.5 727.7L130.0 725.4L132.5 722.8L135.0 720.0L137.5 716.9L140.0 713.4L142.5 709.4L145.0 704.8L147.5 699.6L150.0 693.8L152.5 687.5L155.0 681.0L157.5 674.5L160.0 668.0L162.5 661.6L165.0 655.2L167.5 648.8L170.0 642.5L172.5 636.8L175.0 631.5L177.5 625.8L180.0 619.6L182.5 613.3L185.0 607.1L187.5 601.0L190.0 595.6L192.5 592.3L195.0 592.1L197.5 590.6L200.0 588.5L202.5 587.7L205.0 588.5L207.5 590.1L210.0 592.0L212.5 591.6L215.0 592.6L217.5 596.6L220.0 601.9L222.5 607.6L225.0 613.3L227.5 619.3L230.0 625.4L232.5 631.7L235.0 639.0L237.5 646.9L240.0 654.5L242.5 661.8L245.0 669.0L247.5 676.3L250.0 683.6L252.5 690.8L255.0 697.3L257.5 703.2L260.0 708.6L262.5 713.7L265.0 718.1L267.5 722.0L270.0 725.4L272.5 728.4L275.0 731.0L277.5 733.3L280.0 735.4L282.5 737.2L285.0 738.8L287.5 740.2L290.0 741.5L292.5 742.7L295.0 743.7L297.5 744.6L300.0 745.4L302.5 746.2L305.0 746.9L307.5 747.5L310.0 748.0L312.5 748.6L315.0 749.1L317.5 749.5L320.0 749.9L322.5 750.3L325.0 750.6L327.5 750.8L330.0 751.0L332.5 751.3L335.0 751.5L337.5 751.6L340.0 751.8L342.5 751.9L345.0 752.0L347.5 752.1L350.0 752.2L352.5 752.3L355.0 752.3L357.5 752.4L360.0 752.4L362.5 752.5L365.0 752.5L367.5 752.5L370.0 752.6L372.5 752.6L375.0 752.6L377.5 752.5L379.5 752.5" stroke="#8c564b" stroke-opacity="0.5" stroke-width="4" stroke-dasharray="12.3 5.3" stroke-dashoffset="2.3" fill="none" stroke-linejoin="round"/>
<path d="M93.0 752.0L95.5 751.4L98.0 750.7L100.5 750.0L103.0 749.2L105.5 748.3L108.0 747.4L110.5 746.4L113.0 745.3L115.5 744.1L118.0 742.7L120.5 741.0L123.0 739.0L125.5 736.8L128.0 734.5L130.5 732.2L133.0 729.8L135.5 727.1L138.0 724.0L140.5 720.4L143.0 716.1L145.5 711.2L148.0 705.8L150.5 700.0L153.0 693.8L155.5 687.4L158.0 681.0L160.5 674.5L163.0 668.0L165.5 661.6L168.0 655.2L170.5 648.8L173.0 642.5L175.5 636.8L178.0 631.5L180.5 625.8L183.0 619.6L185.5 613.3L188.0 607.1L190.5 601.1L193.0 595.7L195.5 591.8L198.0 589.6L200.5 586.2L203.0 584.0L205.5 584.7L208.0 587.1L210.5 590.3L213.0 594.2L215.5 598.1L218.0 599.5L220.5 599.9L223.0 602.1L225.5 607.3L228.0 613.2L230.5 619.3L233.0 625.4L235.5 631.7L238.0 639.0L240.5 646.9L243.0 654.5L245.5 661.8L248.0 669.0L250.5 676.3L253.0 683.6L255.5 690.8L258.0 697.3L260.5 703.2L263.0 708.6L265.5 713.7L268.0 718.1L270.5 722.0L273.0 725.4L275.5 728.4L278.0 731.0L280.5 733.3L283.0 735.4L285.5 737.2L288.0 738.8L290.5 740.2L293.0 741.5L295.5 742.7L298.0 743.7L300.5 744.6L303.0 745.4L305.5 746.2L308.0 746.9L310.5 747.5L313.0 748.0L315.5 748.6L318.0 749.1L320.5 749.5L323.0 749.9L325.5 750.3L328.0 750.6L330.5 750.8L333.0 751.0L335.5 751.3L338.0 751.5L340.5 751.6L343.0 751.8L345.5 751.9L348.0 752.0L350.5 752.1L353.0 752.2L355.5 752.3L358.0 752.3L360.5 752.4L363.0 752.4L365.5 752.5L368.0 752.5L370.5 752.5L373.0 752.6L375.5 752.6L378.0 752.6L380.5 752.5L382.5 752.5" stroke="#e377c2" stroke-opacity="0.5" stroke-width="4" stroke-dasharray="12.3 5.3" stroke-dashoffset="9.8" fill="none" stroke-linejoin="round"/>
<path d="M376.5 752.5L379.0 752.4L381.5 752.3L384.0 752.2L386.5 752.1L389.0 752.0L391.5 751.8L394.0 751.7L396.5 751.5L399.0 751.3L401.5 751.1L404.0 750.8L406.5 750.6L409.0 750.3L411.5 750.0L414.0 749.6L416.5 749.1L419.0 748.6L421.5 747.9L424.0 747.2L426.5 746.5L429.0 745.4L431.5 744.1L434.0 742.3L436.5 740.3L439.0 737.9L441.5 735.1L444.0 731.7L446.5 727.6L449.0 722.9L451.5 717.8L454.0 712.3L456.5 706.5L459.0 700.4L461.5 693.7L464.0 685.9L466.5 677.5L469.0 669.1L471.5 660.7L474.0 652.4L476.5 644.0L479.0 635.8L481.5 627.5L484.0 619.8L486.5 613.0L489.0 607.0L491.5 601.8L494.0 597.4L496.5 593.0L499.0 587.7L501.5 582.0L504.0 577.4L506.5 575.3L509.0 574.5L511.5 575.3L514.0 577.6L516.5 581.2L519.0 585.8L521.5 590.9L524.0 596.8L526.5 602.9L529.0 609.1L531.5 615.2L534.0 620.8L536.5 626.4L539.0 632.1L541.5 638.3L544.0 645.2L546.5 652.3L549.0 659.0L551.5 665.7L554.0 672.3L556.5 678.6L559.0 684.5L561.5 690.3L564.0 695.9L566.5 701.1L569.0 705.7L571.5 709.9L574.0 713.5L576.5 716.6L579.0 719.5L581.5 722.4L584.0 725.0L586.5 727.5L589.0 729.8L591.5 732.1L594.0 734.2L594.4 734.5" stroke="#1f77b4" stroke-opacity="0.5" stroke-width="4" stroke-dasharray="20 5 3.8 5 3.8 5" stroke-dashoffset="6.0" fill="none" stroke-linejoin="round"/>
<path d="M380.8 752.5L383.3 752.4L385.8 752.3L388.3 752.2L390.8 752.1L393.3 752.0L395.8 751.8L398.3 751.7L400.8 751.5L403.3 751.3L405.8 751.1L408.3 750.8L410.8 750.6L413.3 750.3L415.8 750.0L418.3 749.6L420.8 749.1L423.3 748.6L425.8 747.9L428.3 747.2L430.8 746.5L433.3 745.4L435.8 744.1L438.3 742.3L440.8 740.3L443.3 737.9L445.8 735.1L448.3 731.7L450.8 727.6L453.3 722.9L455.8 717.8L458.3 712.3L460.8 706.5L463.3 700.4L465.8 693.7L468.3 685.9L470.8 677.5L473.3 669.1L475.8 660.7L478.3 652.4L480.8 644.0L483.3 635.8L485.8 627.5L488.3 620.0L490.8 613.4L493.3 607.2L495.8 601.1L498.3 595.5L500.8 590.8L503.3 587.3L505.8 584.8L508.3 583.1L510.8 581.9L513.3 580.8L515.8 579.9L518.3 579.3L520.8 579.2L523.3 579.5L525.8 580.8L528.3 582.6L530.8 585.2L533.3 590.0L535.8 596.2L538.3 603.3L540.8 611.0L543.3 618.9L545.8 626.8L548.3 635.0L550.8 643.4L553.3 652.0L555.8 660.4L558.3 668.7L560.8 676.1L563.3 682.8L565.8 689.3L568.3 695.3L570.8 700.9L573.3 705.8L575.8 710.1L578.3 713.8L580.8 717.3L583.3 720.4L585.8 723.4L588.3 726.2L590.8 728.8L593.3 731.3L595.2 733.0" stroke="#ff7f0e" stroke-opacity="0.5" stroke-width="4" stroke-dasharray="20 5 3.8 5 3.8 5" stroke-dashoffset="13.0" fill="none" stroke-linejoin="round"/>
<path d="M381.0 752.5L383.5 752.4L386.0 752.3L388.5 752.2L391.0 752.1L393.5 752.0L396.0 751.8L398.5 751.7L401.0 751.5L403.5 751.3L406.0 751.1L408.5 750.8L411.0 750.6L413.5 750.3L416.0 750.0L418.5 749.6L421.0 749.1L423.5 748.6L426.0 747.9L428.5 747.2L431.0 746.5L433.5 745.4L436.0 744.1L438.5 742.3L441.0 740.3L443.5 737.9L446.0 735.1L448.5 731.7L451.0 727.6L453.5 722.9L456.0 717.8L458.5 712.3L461.0 706.5L463.5 700.4L466.0 693.7L468.5 685.9L471.0 677.5L473.5 669.1L476.0 660.7L478.5 652.4L481.0 644.0L483.5 635.8L486.0 627.5L488.5 620.0L491.0 613.4L493.5 607.2L496.0 601.1L498.5 595.3L501.0 590.6L503.5 587.3L506.0 585.3L508.5 584.1L511.0 583.2L513.5 582.4L516.0 581.7L518.5 581.3L521.0 581.2L523.5 581.5L526.0 582.8L528.5 584.7L531.0 588.9L533.5 594.9L536.0 601.8L538.5 609.4L541.0 617.3L543.5 625.2L546.0 633.3L548.5 641.7L551.0 650.3L553.5 658.7L556.0 667.0L558.5 674.7L561.0 681.5L563.5 688.0L566.0 694.1L568.5 699.8L571.0 704.9L573.5 709.3L576.0 713.1L578.5 716.6L581.0 719.8L583.5 722.8L586.0 725.6L588.5 728.3L591.0 730.8L593.4 733.0" stroke="#2ca02c" stroke-opacity="0.5" stroke-width="4" stroke-dasharray="20 5 3.8 5 3.8 5" stroke-dashoffset="26.0" fill="none" stroke-linejoin="round"/>
<path d="M377.0 752.5L379.5 752.4L382.0 752.3L384.5 752.2L387.0 752.1L389.5 752.0L392.0 751.8L394.5 751.7L397.0 751.5L399.5 751.3L402.0 751.1L404.5 750.8L407.0 750.6L409.5 750.3L412.0 750.0L414.5 749.6L417.0 749.1L419.5 748.6L422.0 747.9L424.5 747.2L427.0 746.5L429.5 745.4L432.0 744.1L434.5 742.3L437.0 740.3L439.5 737.9L442.0 735.1L444.5 731.7L447.0 727.6L449.5 722.9L452.0 717.8L454.5 712.3L457.0 706.5L459.5 700.4L462.0 693.7L464.5 685.9L467.0 677.5L469.5 669.1L472.0 660.7L474.5 652.4L477.0 644.0L479.5 635.8L482.0 627.5L484.5 620.0L487.0 613.3L489.5 607.2L492.0 601.3L494.5 596.2L497.0 592.2L499.5 589.5L502.0 587.5L504.5 586.2L507.0 585.3L509.5 584.7L512.0 584.4L514.5 584.4L517.0 584.7L519.5 585.8L522.0 587.0L524.5 586.9L527.0 586.6L529.5 589.2L532.0 595.1L534.5 602.8L537.0 611.0L539.5 618.9L542.0 626.9L544.5 635.0L547.0 643.4L549.5 652.0L552.0 660.4L554.5 668.7L557.0 676.1L559.5 682.8L562.0 689.3L564.5 695.3L567.0 700.9L569.5 705.8L572.0 710.1L574.5 713.8L577.0 717.3L579.5 720.4L582.0 723.4L584.5 726.2L587.0 728.8L589.5 731.3L591.4 733.0" stroke="#d62728" stroke-opacity="0.5" stroke-width="4" stroke-dasharray="20 5 3.8 5 3.8 5" stroke-dashoffset="39.0" fill="none" stroke-linejoin="round"/>
<path d="M380.0 752.5L382.5 752.5L385.0 752.5L387.5 752.4L390.0 752.3L392.5 752.3L395.0 752.2L397.5 752.1L400.0 752.0L402.5 751.9L405.0 751.7L407.5 751.6L410.0 751.5L412.5 751.4L415.0 751.2L417.5 750.9L420.0 750.7L422.5 750.4L425.0 750.1L427.5 749.8L430.0 749.5L432.5 749.1L435.0 748.4L437.5 747.6L440.0 746.6L442.5 745.4L445.0 744.0L447.5 742.2L450.0 739.9L452.5 737.1L455.0 734.0L457.5 730.7L460.0 727.3L462.5 723.7L465.0 719.8L467.5 715.6L470.0 710.8L472.5 705.5L475.0 699.5L477.5 693.0L480.0 686.0L482.5 678.9L485.0 671.6L487.5 663.8L490.0 655.2L492.5 645.7L495.0 636.3L497.5 627.7L500.0 619.8L502.5 612.4L505.0 605.6L507.5 599.5L510.0 594.0L512.5 589.2L515.0 585.2L517.5 582.0L520.0 579.9L522.5 579.2L525.0 579.7L527.5 581.4L530.0 583.8L532.5 586.8L535.0 590.5L537.5 594.4L540.0 598.5L542.5 602.9L545.0 608.1L547.5 614.7L550.0 622.0L552.5 630.0L555.0 638.9L557.5 648.6L560.0 657.9L562.5 666.9L565.0 675.3L567.5 682.5L570.0 688.6L572.5 693.9L575.0 698.2L577.5 701.5L580.0 704.0L582.5 706.4L585.0 708.7L587.5 710.8L590.0 712.8L592.5 714.7L594.4 716.0" stroke="#9467bd" stroke-opacity="0.5" stroke-width="4" stroke-dasharray="20 5 3.8 5 3.8 5" stroke-dashoffset="9.4" fill="none" stroke-linejoin="round"/>
<path d="M381.8 752.5L384.3 752.4L386.8 752.3L389.3 752.2L391.8 752.1L394.3 752.0L396.8 751.8L399.3 751.7L401.8 751.5L404.3 751.3L406.8 751.1L409.3 750.8L411.8 750.6L414.3 750.3L416.8 750.0L419.3 749.6L421.8 749.1L424.3 748.6L426.8 747.9L429.3 747.2L431.8 746.5L434.3 745.4L436.8 744.1L439.3 742.3L441.8 740.3L444.3 737.9L446.8 735.1L449.3 731.7L451.8 727.6L454.3 722.9L456.8 717.8L459.3 712.3L461.8 706.5L464.3 700.4L466.8 693.7L469.3 685.9L471.8 677.5L474.3 669.1L476.8 660.7L479.3 652.4L481.8 644.0L484.3 635.8L486.8 627.5L489.3 620.1L491.8 613.4L494.3 607.2L496.8 600.9L499.3 594.8L501.8 590.0L504.3 587.4L506.8 586.2L509.3 585.2L511.8 584.2L514.3 583.2L516.8 582.2L519.3 581.5L521.8 581.4L524.3 581.6L526.8 582.6L529.3 584.2L531.8 587.4L534.3 593.0L536.8 599.5L539.3 606.5L541.8 613.9L544.3 621.3L546.8 628.8L549.3 636.4L551.8 644.1L554.3 651.9L556.8 659.7L559.3 667.1L561.8 673.3L564.3 678.6L566.8 683.2L569.3 686.9L571.8 691.0L574.3 696.5L576.8 702.7L579.3 708.3L581.8 713.0L584.3 716.3L586.8 719.3L589.3 722.2L591.8 725.1L594.3 727.9L594.4 728.0" stroke="#8c564b" stroke-opacity="0.5" stroke-width="4" stroke-dasharray="20 5 3.8 5 3.8 5" stroke-dashoffset="22.4" fill="none" stroke-linejoin="round"/>
<path d="M375.5 752.5L378.0 752.4L380.5 752.3L383.0 752.2L385.5 752.1L388.0 752.0L390.5 751.8L393.0 751.7L395.5 751.5L398.0 751.3L400.5 751.1L403.0 750.8L405.5 750.6L408.0 750.3L410.5 750.0L413.0 749.6L415.5 749.1L418.0 748.6L420.5 747.9L423.0 747.2L425.5 746.5L428.0 745.4L430.5 744.1L433.0 742.3L435.5 740.3L438.0 737.9L440.5 735.1L443.0 731.7L445.5 727.6L448.0 722.9L450.5 717.8L453.0 712.3L455.5 706.5L458.0 700.4L460.5 693.7L463.0 685.9L465.5 677.5L468.0 669.1L470.5 660.7L473.0 652.4L475.5 644.1L478.0 635.8L480.5 627.5L483.0 619.9L485.5 613.2L488.0 607.1L490.5 601.5L493.0 596.7L495.5 593.1L498.0 590.6L500.5 588.6L503.0 587.2L505.5 586.2L508.0 585.4L510.5 584.9L513.0 584.8L515.5 585.1L518.0 586.0L520.5 587.3L523.0 587.5L525.5 586.5L528.0 586.2L530.5 588.5L533.0 593.9L535.5 601.3L538.0 609.4L540.5 617.3L543.0 625.3L545.5 633.3L548.0 641.7L550.5 650.3L553.0 658.7L555.5 667.0L558.0 674.7L560.5 681.5L563.0 688.0L565.5 694.1L568.0 699.8L570.5 704.9L573.0 709.3L575.5 713.1L578.0 716.6L580.5 719.8L583.0 722.8L585.5 725.6L588.0 728.3L590.5 730.8L592.9 733.0" stroke="#e377c2" stroke-opacity="0.5" stroke-width="4" stroke-dasharray="20 5 3.8 5 3.8 5" stroke-dashoffset="35.4" fill="none" stroke-linejoin="round"/>
</g>
<path d="M89.7 605.05H594.6" stroke="#000" stroke-width="2.64" stroke-dasharray="2.64 10.55" fill="none"/>
<path d="M90.2 752.8V457.3H594.6M90.2 752.8H594.6" stroke="#000" stroke-width="1.6" fill="none" stroke-linecap="square"/>
<path d="M594.6 752.8V457.3" stroke="#000" stroke-width="2.3" stroke-dasharray="19 12.65" fill="none"/>
<path d="M90.2 752.80h-8M90.2 678.92h-8M90.2 605.05h-8M90.2 531.17h-8M90.2 457.30h-8M594.6 752.80h8.3M594.6 693.70h8.3M594.6 634.60h8.3M594.6 575.50h8.3M594.6 516.40h8.3M594.6 457.30h8.3M133.14 752.8v7.8M195.90 752.8v7.8M258.66 752.8v7.8M321.42 752.8v7.8M384.18 752.8v7.8M446.94 752.8v7.8M509.70 752.8v7.8M572.46 752.8v7.8" stroke="#000" stroke-width="1.6" fill="none"/>
<path d="M91.30 752.8v4.8M112.22 752.8v4.8M154.06 752.8v4.8M174.98 752.8v4.8M216.82 752.8v4.8M237.74 752.8v4.8M279.58 752.8v4.8M300.50 752.8v4.8M342.34 752.8v4.8M363.26 752.8v4.8M405.10 752.8v4.8M426.02 752.8v4.8M467.86 752.8v4.8M488.78 752.8v4.8M530.62 752.8v4.8M551.54 752.8v4.8M593.38 752.8v4.8" stroke="#000" stroke-width="1.2" fill="none"/>
<text x="75.6" y="762.80" font-size="22.3" text-anchor="end">1.0</text>
<text x="75.6" y="688.92" font-size="22.3" text-anchor="end">1.5</text>
<text x="75.6" y="615.05" font-size="22.3" text-anchor="end">2.0</text>
<text x="75.6" y="541.17" font-size="22.3" text-anchor="end">2.5</text>
<text x="75.6" y="467.30" font-size="22.3" text-anchor="end">3.0</text>
<text x="609.6" y="762.30" font-size="22.3">0</text>
<text x="609.6" y="703.20" font-size="22.3">2</text>
<text x="609.6" y="644.10" font-size="22.3">4</text>
<text x="609.6" y="585.00" font-size="22.3">6</text>
<text x="609.6" y="525.90" font-size="22.3">8</text>
<text x="609.6" y="466.80" font-size="22.3">10</text>
<text transform="translate(131.64 779.00) rotate(-45)" font-size="20" text-anchor="end">6 AM</text>
<text transform="translate(194.40 779.00) rotate(-45)" font-size="20" text-anchor="end">9 AM</text>
<text transform="translate(257.16 779.00) rotate(-45)" font-size="20" text-anchor="end">12 PM</text>
<text transform="translate(319.92 779.00) rotate(-45)" font-size="20" text-anchor="end">3 PM</text>
<text transform="translate(382.68 779.00) rotate(-45)" font-size="20" text-anchor="end">6 PM</text>
<text transform="translate(445.44 779.00) rotate(-45)" font-size="20" text-anchor="end">9 PM</text>
<text transform="translate(508.20 779.00) rotate(-45)" font-size="20" text-anchor="end">12 AM</text>
<text transform="translate(570.96 779.00) rotate(-45)" font-size="20" text-anchor="end">3 AM</text>
<text x="343.3" y="443.8" font-size="19.8" text-anchor="middle">Thanksgiving break</text>
<text x="116" y="489.8" font-size="22" font-weight="bold">B</text>
<text transform="translate(16.6 391.8) rotate(-90)" font-size="22" text-anchor="middle">Oura activity: mean of per-user means</text>
<text transform="translate(681 391) rotate(-90)" font-size="22" text-anchor="middle">density (mean time per user)</text>
<rect x="82.8" y="850.6" width="519.8" height="122" rx="4" ry="4" fill="#fff" stroke="#cfcfcf" stroke-width="1.9"/>
<path d="M90.7 866.5h40" stroke="#1f77b4" stroke-width="3.4" stroke-linecap="square" fill="none"/>
<text x="146.0" y="873.5" font-size="20">Mon</text>
<path d="M90.7 895.7h40" stroke="#ff7f0e" stroke-width="3.4" stroke-linecap="square" fill="none"/>
<text x="146.0" y="902.7" font-size="20">Tue</text>
<path d="M90.7 924.8h40" stroke="#2ca02c" stroke-width="3.4" stroke-linecap="square" fill="none"/>
<text x="146.0" y="931.8" font-size="20">Wed</text>
<path d="M90.7 954.0h40" stroke="#d62728" stroke-width="3.4" stroke-linecap="square" fill="none"/>
<text x="146.0" y="961.0" font-size="20">Thu</text>
<path d="M228.7 866.5h40" stroke="#9467bd" stroke-width="3.4" stroke-linecap="square" fill="none"/>
<text x="284.0" y="873.5" font-size="20">Fri</text>
<path d="M228.7 895.7h40" stroke="#8c564b" stroke-width="3.4" stroke-linecap="square" fill="none"/>
<text x="284.0" y="902.7" font-size="20">Sat</text>
<path d="M228.7 924.8h40" stroke="#e377c2" stroke-width="3.4" stroke-linecap="square" fill="none"/>
<text x="284.0" y="931.8" font-size="20">Sun</text>
<path d="M361.2 866.5h40" stroke="#000" stroke-width="4.2" stroke-linecap="square" fill="none"/>
<path d="M361.2 895.7h40" stroke="#000" stroke-width="4.2" stroke-dasharray="12.5 5" fill="none"/>
<path d="M361.2 924.8h40" stroke="#000" stroke-width="4.2" stroke-dasharray="21.5 5 4 5 4 5" fill="none"/>
<text x="416.5" y="873.5" font-size="19.9">activity level</text>
<text x="416.5" y="902.7" font-size="19.9">mean get-up time</text>
<text x="416.5" y="931.8" font-size="19.9">mean bedtime</text>
</svg></body></html>
